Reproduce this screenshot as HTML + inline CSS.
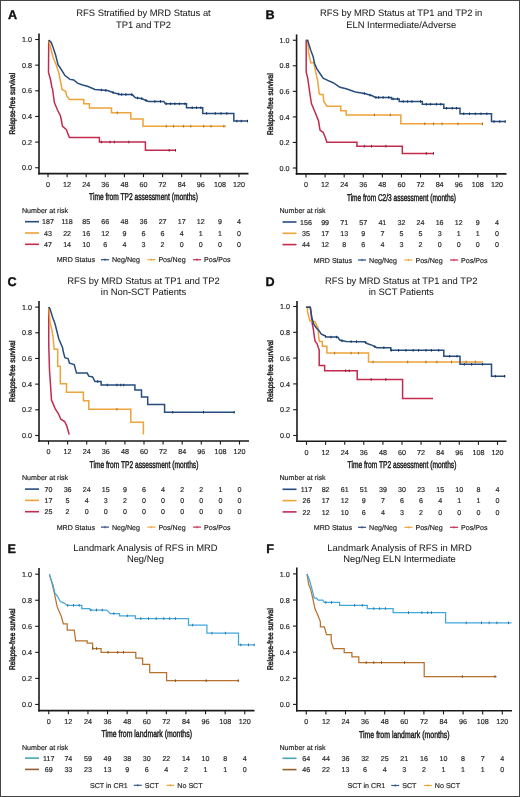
<!DOCTYPE html>
<html><head><meta charset="utf-8"><style>
html,body{margin:0;padding:0;background:#fff;}
body{width:520px;height:797px;overflow:hidden;position:relative;}
svg{position:absolute;left:0;top:0;font-family:"Liberation Sans",sans-serif;text-rendering:geometricPrecision;filter:blur(0.3px);}
.frame{position:absolute;left:0;top:0;width:518px;height:795px;border:1px solid #444;}
</style></head><body>
<svg width="520" height="797" viewBox="0 0 520 797">
<text x="8.00" y="18.80" font-size="12.6" text-anchor="start" fill="#111" font-weight="bold" stroke="#111" stroke-width="0.35">A</text>
<text x="143.50" y="16.10" font-size="9.4" text-anchor="middle" fill="#1a1a1a" font-weight="normal" stroke="#1a1a1a" stroke-width="0.04">RFS Stratified by MRD Status at</text>
<text x="143.50" y="27.60" font-size="9.4" text-anchor="middle" fill="#1a1a1a" font-weight="normal" stroke="#1a1a1a" stroke-width="0.04">TP1 and TP2</text>
<line x1="39.00" y1="33.50" x2="39.00" y2="174.40" stroke="#1a1a1a" stroke-width="1.6"/>
<line x1="38.20" y1="173.60" x2="248.50" y2="173.60" stroke="#1a1a1a" stroke-width="1.6"/>
<line x1="35.20" y1="39.50" x2="39.00" y2="39.50" stroke="#1a1a1a" stroke-width="1.1"/>
<text x="32.00" y="42.10" font-size="7.2" text-anchor="end" fill="#222" font-weight="normal" stroke="#222" stroke-width="0.16">1.0</text>
<line x1="35.20" y1="65.15" x2="39.00" y2="65.15" stroke="#1a1a1a" stroke-width="1.1"/>
<text x="32.00" y="67.75" font-size="7.2" text-anchor="end" fill="#222" font-weight="normal" stroke="#222" stroke-width="0.16">0.8</text>
<line x1="35.20" y1="90.80" x2="39.00" y2="90.80" stroke="#1a1a1a" stroke-width="1.1"/>
<text x="32.00" y="93.40" font-size="7.2" text-anchor="end" fill="#222" font-weight="normal" stroke="#222" stroke-width="0.16">0.6</text>
<line x1="35.20" y1="116.45" x2="39.00" y2="116.45" stroke="#1a1a1a" stroke-width="1.1"/>
<text x="32.00" y="119.05" font-size="7.2" text-anchor="end" fill="#222" font-weight="normal" stroke="#222" stroke-width="0.16">0.4</text>
<line x1="35.20" y1="142.10" x2="39.00" y2="142.10" stroke="#1a1a1a" stroke-width="1.1"/>
<text x="32.00" y="144.70" font-size="7.2" text-anchor="end" fill="#222" font-weight="normal" stroke="#222" stroke-width="0.16">0.2</text>
<line x1="35.20" y1="167.75" x2="39.00" y2="167.75" stroke="#1a1a1a" stroke-width="1.1"/>
<text x="32.00" y="170.35" font-size="7.2" text-anchor="end" fill="#222" font-weight="normal" stroke="#222" stroke-width="0.16">0.0</text>
<line x1="48.00" y1="173.60" x2="48.00" y2="177.20" stroke="#1a1a1a" stroke-width="1.1"/>
<text x="48.00" y="187.00" font-size="7.2" text-anchor="middle" fill="#222" font-weight="normal" stroke="#222" stroke-width="0.16">0</text>
<line x1="67.10" y1="173.60" x2="67.10" y2="177.20" stroke="#1a1a1a" stroke-width="1.1"/>
<text x="67.10" y="187.00" font-size="7.2" text-anchor="middle" fill="#222" font-weight="normal" stroke="#222" stroke-width="0.16">12</text>
<line x1="86.20" y1="173.60" x2="86.20" y2="177.20" stroke="#1a1a1a" stroke-width="1.1"/>
<text x="86.20" y="187.00" font-size="7.2" text-anchor="middle" fill="#222" font-weight="normal" stroke="#222" stroke-width="0.16">24</text>
<line x1="105.30" y1="173.60" x2="105.30" y2="177.20" stroke="#1a1a1a" stroke-width="1.1"/>
<text x="105.30" y="187.00" font-size="7.2" text-anchor="middle" fill="#222" font-weight="normal" stroke="#222" stroke-width="0.16">36</text>
<line x1="124.40" y1="173.60" x2="124.40" y2="177.20" stroke="#1a1a1a" stroke-width="1.1"/>
<text x="124.40" y="187.00" font-size="7.2" text-anchor="middle" fill="#222" font-weight="normal" stroke="#222" stroke-width="0.16">48</text>
<line x1="143.50" y1="173.60" x2="143.50" y2="177.20" stroke="#1a1a1a" stroke-width="1.1"/>
<text x="143.50" y="187.00" font-size="7.2" text-anchor="middle" fill="#222" font-weight="normal" stroke="#222" stroke-width="0.16">60</text>
<line x1="162.60" y1="173.60" x2="162.60" y2="177.20" stroke="#1a1a1a" stroke-width="1.1"/>
<text x="162.60" y="187.00" font-size="7.2" text-anchor="middle" fill="#222" font-weight="normal" stroke="#222" stroke-width="0.16">72</text>
<line x1="181.70" y1="173.60" x2="181.70" y2="177.20" stroke="#1a1a1a" stroke-width="1.1"/>
<text x="181.70" y="187.00" font-size="7.2" text-anchor="middle" fill="#222" font-weight="normal" stroke="#222" stroke-width="0.16">84</text>
<line x1="200.80" y1="173.60" x2="200.80" y2="177.20" stroke="#1a1a1a" stroke-width="1.1"/>
<text x="200.80" y="187.00" font-size="7.2" text-anchor="middle" fill="#222" font-weight="normal" stroke="#222" stroke-width="0.16">96</text>
<line x1="219.90" y1="173.60" x2="219.90" y2="177.20" stroke="#1a1a1a" stroke-width="1.1"/>
<text x="219.90" y="187.00" font-size="7.2" text-anchor="middle" fill="#222" font-weight="normal" stroke="#222" stroke-width="0.16">108</text>
<line x1="239.00" y1="173.60" x2="239.00" y2="177.20" stroke="#1a1a1a" stroke-width="1.1"/>
<text x="239.00" y="187.00" font-size="7.2" text-anchor="middle" fill="#222" font-weight="normal" stroke="#222" stroke-width="0.16">120</text>
<text transform="translate(143.50,200.30) scale(0.672,1)" font-size="9.9" text-anchor="middle" fill="#1a1a1a" stroke="#1a1a1a" stroke-width="0.45" x="0" y="0">Time from TP2 assessment (months)</text>
<text transform="translate(15.10,103.62) rotate(-90) scale(0.8,1)" font-size="8.2" text-anchor="middle" fill="#1a1a1a" stroke="#1a1a1a" stroke-width="0.42" x="0" y="0">Relapse-free survival</text>
<polyline points="48.75,40.00 48.50,72.50 50.60,80.00 51.90,87.50 52.50,88.75 54.40,102.50 57.50,110.00 60.60,116.25 62.50,126.25 66.25,129.40 69.40,137.50 99.40,137.50 99.40,142.00 145.40,142.00 145.40,150.30 175.40,150.30" fill="none" stroke="#c22a4e" stroke-width="1.5" stroke-linejoin="miter"/>
<line x1="101.40" y1="140.70" x2="101.40" y2="143.30" stroke="#871d36" stroke-width="1.0"/>
<line x1="110.00" y1="140.70" x2="110.00" y2="143.30" stroke="#871d36" stroke-width="1.0"/>
<line x1="114.40" y1="140.70" x2="114.40" y2="143.30" stroke="#871d36" stroke-width="1.0"/>
<line x1="128.80" y1="140.70" x2="128.80" y2="143.30" stroke="#871d36" stroke-width="1.0"/>
<line x1="169.20" y1="149.00" x2="169.20" y2="151.60" stroke="#871d36" stroke-width="1.0"/>
<line x1="175.50" y1="149.00" x2="175.50" y2="151.60" stroke="#871d36" stroke-width="1.0"/>
<polyline points="48.75,40.00 50.60,47.50 53.10,57.50 56.25,65.00 58.75,72.50 61.25,85.00 61.90,89.40 65.60,91.25 66.90,96.25 69.40,99.40 83.75,99.40 83.75,103.75 89.40,103.75 89.40,108.00 111.50,108.00 111.50,112.80 130.80,112.80 130.80,118.90 143.00,118.90 143.00,126.20 225.80,126.20" fill="none" stroke="#eda43a" stroke-width="1.5" stroke-linejoin="miter"/>
<line x1="117.30" y1="111.50" x2="117.30" y2="114.10" stroke="#a57228" stroke-width="1.0"/>
<line x1="166.30" y1="124.90" x2="166.30" y2="127.50" stroke="#a57228" stroke-width="1.0"/>
<line x1="173.50" y1="124.90" x2="173.50" y2="127.50" stroke="#a57228" stroke-width="1.0"/>
<line x1="183.60" y1="124.90" x2="183.60" y2="127.50" stroke="#a57228" stroke-width="1.0"/>
<line x1="190.80" y1="124.90" x2="190.80" y2="127.50" stroke="#a57228" stroke-width="1.0"/>
<line x1="203.70" y1="124.90" x2="203.70" y2="127.50" stroke="#a57228" stroke-width="1.0"/>
<line x1="211.00" y1="124.90" x2="211.00" y2="127.50" stroke="#a57228" stroke-width="1.0"/>
<line x1="223.90" y1="124.90" x2="223.90" y2="127.50" stroke="#a57228" stroke-width="1.0"/>
<polyline points="48.75,40.00 51.25,42.50 53.10,47.50 55.60,55.00 58.10,65.00 60.00,67.50 65.00,75.60 70.00,79.40 73.75,80.00 77.50,83.10 82.50,85.00 87.50,86.25 95.00,89.40 101.25,90.00 107.50,90.60 113.75,92.75 120.00,94.40 132.30,94.60 135.40,97.70 141.50,98.50 148.50,101.50 163.80,101.50 165.40,103.80 186.50,103.80 186.50,107.70 202.70,107.70 202.70,113.40 233.80,113.40 233.80,121.10 248.00,121.10" fill="none" stroke="#264d80" stroke-width="1.5" stroke-linejoin="miter"/>
<line x1="101.40" y1="88.71" x2="101.40" y2="91.31" stroke="#1a3559" stroke-width="1.0"/>
<line x1="105.80" y1="89.14" x2="105.80" y2="91.74" stroke="#1a3559" stroke-width="1.0"/>
<line x1="113.00" y1="91.19" x2="113.00" y2="93.79" stroke="#1a3559" stroke-width="1.0"/>
<line x1="118.70" y1="92.76" x2="118.70" y2="95.36" stroke="#1a3559" stroke-width="1.0"/>
<line x1="121.60" y1="93.13" x2="121.60" y2="95.73" stroke="#1a3559" stroke-width="1.0"/>
<line x1="125.90" y1="93.20" x2="125.90" y2="95.80" stroke="#1a3559" stroke-width="1.0"/>
<line x1="131.70" y1="93.29" x2="131.70" y2="95.89" stroke="#1a3559" stroke-width="1.0"/>
<line x1="137.50" y1="96.68" x2="137.50" y2="99.28" stroke="#1a3559" stroke-width="1.0"/>
<line x1="141.80" y1="97.33" x2="141.80" y2="99.93" stroke="#1a3559" stroke-width="1.0"/>
<line x1="146.10" y1="99.17" x2="146.10" y2="101.77" stroke="#1a3559" stroke-width="1.0"/>
<line x1="154.80" y1="100.20" x2="154.80" y2="102.80" stroke="#1a3559" stroke-width="1.0"/>
<line x1="160.50" y1="100.20" x2="160.50" y2="102.80" stroke="#1a3559" stroke-width="1.0"/>
<line x1="166.30" y1="102.50" x2="166.30" y2="105.10" stroke="#1a3559" stroke-width="1.0"/>
<line x1="170.60" y1="102.50" x2="170.60" y2="105.10" stroke="#1a3559" stroke-width="1.0"/>
<line x1="174.90" y1="102.50" x2="174.90" y2="105.10" stroke="#1a3559" stroke-width="1.0"/>
<line x1="179.30" y1="102.50" x2="179.30" y2="105.10" stroke="#1a3559" stroke-width="1.0"/>
<line x1="185.00" y1="102.50" x2="185.00" y2="105.10" stroke="#1a3559" stroke-width="1.0"/>
<line x1="192.20" y1="106.40" x2="192.20" y2="109.00" stroke="#1a3559" stroke-width="1.0"/>
<line x1="196.50" y1="106.40" x2="196.50" y2="109.00" stroke="#1a3559" stroke-width="1.0"/>
<line x1="200.90" y1="106.40" x2="200.90" y2="109.00" stroke="#1a3559" stroke-width="1.0"/>
<line x1="206.60" y1="112.10" x2="206.60" y2="114.70" stroke="#1a3559" stroke-width="1.0"/>
<line x1="215.30" y1="112.10" x2="215.30" y2="114.70" stroke="#1a3559" stroke-width="1.0"/>
<line x1="221.00" y1="112.10" x2="221.00" y2="114.70" stroke="#1a3559" stroke-width="1.0"/>
<line x1="226.80" y1="112.10" x2="226.80" y2="114.70" stroke="#1a3559" stroke-width="1.0"/>
<line x1="236.90" y1="119.80" x2="236.90" y2="122.40" stroke="#1a3559" stroke-width="1.0"/>
<line x1="241.20" y1="119.80" x2="241.20" y2="122.40" stroke="#1a3559" stroke-width="1.0"/>
<line x1="247.50" y1="119.80" x2="247.50" y2="122.40" stroke="#1a3559" stroke-width="1.0"/>
<text x="22.00" y="212.80" font-size="7.1" text-anchor="start" fill="#222" font-weight="normal" stroke="#222" stroke-width="0.16">Number at risk</text>
<line x1="25.00" y1="221.70" x2="39.00" y2="221.70" stroke="#264d80" stroke-width="1.6"/>
<text x="48.00" y="224.30" font-size="7.1" text-anchor="middle" fill="#222" font-weight="normal" stroke="#222" stroke-width="0.16">187</text>
<text x="67.10" y="224.30" font-size="7.1" text-anchor="middle" fill="#222" font-weight="normal" stroke="#222" stroke-width="0.16">118</text>
<text x="86.20" y="224.30" font-size="7.1" text-anchor="middle" fill="#222" font-weight="normal" stroke="#222" stroke-width="0.16">85</text>
<text x="105.30" y="224.30" font-size="7.1" text-anchor="middle" fill="#222" font-weight="normal" stroke="#222" stroke-width="0.16">66</text>
<text x="124.40" y="224.30" font-size="7.1" text-anchor="middle" fill="#222" font-weight="normal" stroke="#222" stroke-width="0.16">48</text>
<text x="143.50" y="224.30" font-size="7.1" text-anchor="middle" fill="#222" font-weight="normal" stroke="#222" stroke-width="0.16">36</text>
<text x="162.60" y="224.30" font-size="7.1" text-anchor="middle" fill="#222" font-weight="normal" stroke="#222" stroke-width="0.16">27</text>
<text x="181.70" y="224.30" font-size="7.1" text-anchor="middle" fill="#222" font-weight="normal" stroke="#222" stroke-width="0.16">17</text>
<text x="200.80" y="224.30" font-size="7.1" text-anchor="middle" fill="#222" font-weight="normal" stroke="#222" stroke-width="0.16">12</text>
<text x="219.90" y="224.30" font-size="7.1" text-anchor="middle" fill="#222" font-weight="normal" stroke="#222" stroke-width="0.16">9</text>
<text x="239.00" y="224.30" font-size="7.1" text-anchor="middle" fill="#222" font-weight="normal" stroke="#222" stroke-width="0.16">4</text>
<line x1="25.00" y1="233.00" x2="39.00" y2="233.00" stroke="#eda43a" stroke-width="1.6"/>
<text x="48.00" y="235.60" font-size="7.1" text-anchor="middle" fill="#222" font-weight="normal" stroke="#222" stroke-width="0.16">43</text>
<text x="67.10" y="235.60" font-size="7.1" text-anchor="middle" fill="#222" font-weight="normal" stroke="#222" stroke-width="0.16">22</text>
<text x="86.20" y="235.60" font-size="7.1" text-anchor="middle" fill="#222" font-weight="normal" stroke="#222" stroke-width="0.16">16</text>
<text x="105.30" y="235.60" font-size="7.1" text-anchor="middle" fill="#222" font-weight="normal" stroke="#222" stroke-width="0.16">12</text>
<text x="124.40" y="235.60" font-size="7.1" text-anchor="middle" fill="#222" font-weight="normal" stroke="#222" stroke-width="0.16">9</text>
<text x="143.50" y="235.60" font-size="7.1" text-anchor="middle" fill="#222" font-weight="normal" stroke="#222" stroke-width="0.16">6</text>
<text x="162.60" y="235.60" font-size="7.1" text-anchor="middle" fill="#222" font-weight="normal" stroke="#222" stroke-width="0.16">6</text>
<text x="181.70" y="235.60" font-size="7.1" text-anchor="middle" fill="#222" font-weight="normal" stroke="#222" stroke-width="0.16">4</text>
<text x="200.80" y="235.60" font-size="7.1" text-anchor="middle" fill="#222" font-weight="normal" stroke="#222" stroke-width="0.16">1</text>
<text x="219.90" y="235.60" font-size="7.1" text-anchor="middle" fill="#222" font-weight="normal" stroke="#222" stroke-width="0.16">1</text>
<text x="239.00" y="235.60" font-size="7.1" text-anchor="middle" fill="#222" font-weight="normal" stroke="#222" stroke-width="0.16">0</text>
<line x1="25.00" y1="244.30" x2="39.00" y2="244.30" stroke="#c22a4e" stroke-width="1.6"/>
<text x="48.00" y="246.90" font-size="7.1" text-anchor="middle" fill="#222" font-weight="normal" stroke="#222" stroke-width="0.16">47</text>
<text x="67.10" y="246.90" font-size="7.1" text-anchor="middle" fill="#222" font-weight="normal" stroke="#222" stroke-width="0.16">14</text>
<text x="86.20" y="246.90" font-size="7.1" text-anchor="middle" fill="#222" font-weight="normal" stroke="#222" stroke-width="0.16">10</text>
<text x="105.30" y="246.90" font-size="7.1" text-anchor="middle" fill="#222" font-weight="normal" stroke="#222" stroke-width="0.16">6</text>
<text x="124.40" y="246.90" font-size="7.1" text-anchor="middle" fill="#222" font-weight="normal" stroke="#222" stroke-width="0.16">4</text>
<text x="143.50" y="246.90" font-size="7.1" text-anchor="middle" fill="#222" font-weight="normal" stroke="#222" stroke-width="0.16">3</text>
<text x="162.60" y="246.90" font-size="7.1" text-anchor="middle" fill="#222" font-weight="normal" stroke="#222" stroke-width="0.16">2</text>
<text x="181.70" y="246.90" font-size="7.1" text-anchor="middle" fill="#222" font-weight="normal" stroke="#222" stroke-width="0.16">0</text>
<text x="200.80" y="246.90" font-size="7.1" text-anchor="middle" fill="#222" font-weight="normal" stroke="#222" stroke-width="0.16">0</text>
<text x="219.90" y="246.90" font-size="7.1" text-anchor="middle" fill="#222" font-weight="normal" stroke="#222" stroke-width="0.16">0</text>
<text x="239.00" y="246.90" font-size="7.1" text-anchor="middle" fill="#222" font-weight="normal" stroke="#222" stroke-width="0.16">0</text>
<text x="56.70" y="262.30" font-size="7.1" text-anchor="start" fill="#222" font-weight="normal" stroke="#222" stroke-width="0.16">MRD Status</text>
<line x1="100.97" y1="259.70" x2="108.97" y2="259.70" stroke="#264d80" stroke-width="1.2"/>
<line x1="104.97" y1="258.50" x2="104.97" y2="260.90" stroke="#264d80" stroke-width="0.8"/>
<text x="111.97" y="262.30" font-size="7.1" text-anchor="start" fill="#222" font-weight="normal" stroke="#222" stroke-width="0.16">Neg/Neg</text>
<line x1="147.39" y1="259.70" x2="155.39" y2="259.70" stroke="#eda43a" stroke-width="1.2"/>
<line x1="151.39" y1="258.50" x2="151.39" y2="260.90" stroke="#eda43a" stroke-width="0.8"/>
<text x="158.39" y="262.30" font-size="7.1" text-anchor="start" fill="#222" font-weight="normal" stroke="#222" stroke-width="0.16">Pos/Neg</text>
<line x1="193.02" y1="259.70" x2="201.02" y2="259.70" stroke="#c22a4e" stroke-width="1.2"/>
<line x1="197.02" y1="258.50" x2="197.02" y2="260.90" stroke="#c22a4e" stroke-width="0.8"/>
<text x="204.02" y="262.30" font-size="7.1" text-anchor="start" fill="#222" font-weight="normal" stroke="#222" stroke-width="0.16">Pos/Pos</text>
<text x="265.50" y="18.80" font-size="12.6" text-anchor="start" fill="#111" font-weight="bold" stroke="#111" stroke-width="0.35">B</text>
<text x="401.20" y="16.10" font-size="9.4" text-anchor="middle" fill="#1a1a1a" font-weight="normal" stroke="#1a1a1a" stroke-width="0.04">RFS by MRD Status at TP1 and TP2 in</text>
<text x="401.20" y="27.60" font-size="9.4" text-anchor="middle" fill="#1a1a1a" font-weight="normal" stroke="#1a1a1a" stroke-width="0.04">ELN Intermediate/Adverse</text>
<line x1="296.60" y1="34.40" x2="296.60" y2="174.70" stroke="#1a1a1a" stroke-width="1.6"/>
<line x1="295.80" y1="173.90" x2="506.50" y2="173.90" stroke="#1a1a1a" stroke-width="1.6"/>
<line x1="292.80" y1="40.25" x2="296.60" y2="40.25" stroke="#1a1a1a" stroke-width="1.1"/>
<text x="289.60" y="42.85" font-size="7.2" text-anchor="end" fill="#222" font-weight="normal" stroke="#222" stroke-width="0.16">1.0</text>
<line x1="292.80" y1="65.80" x2="296.60" y2="65.80" stroke="#1a1a1a" stroke-width="1.1"/>
<text x="289.60" y="68.40" font-size="7.2" text-anchor="end" fill="#222" font-weight="normal" stroke="#222" stroke-width="0.16">0.8</text>
<line x1="292.80" y1="91.35" x2="296.60" y2="91.35" stroke="#1a1a1a" stroke-width="1.1"/>
<text x="289.60" y="93.95" font-size="7.2" text-anchor="end" fill="#222" font-weight="normal" stroke="#222" stroke-width="0.16">0.6</text>
<line x1="292.80" y1="116.90" x2="296.60" y2="116.90" stroke="#1a1a1a" stroke-width="1.1"/>
<text x="289.60" y="119.50" font-size="7.2" text-anchor="end" fill="#222" font-weight="normal" stroke="#222" stroke-width="0.16">0.4</text>
<line x1="292.80" y1="142.45" x2="296.60" y2="142.45" stroke="#1a1a1a" stroke-width="1.1"/>
<text x="289.60" y="145.05" font-size="7.2" text-anchor="end" fill="#222" font-weight="normal" stroke="#222" stroke-width="0.16">0.2</text>
<line x1="292.80" y1="168.00" x2="296.60" y2="168.00" stroke="#1a1a1a" stroke-width="1.1"/>
<text x="289.60" y="170.60" font-size="7.2" text-anchor="end" fill="#222" font-weight="normal" stroke="#222" stroke-width="0.16">0.0</text>
<line x1="306.00" y1="173.90" x2="306.00" y2="177.50" stroke="#1a1a1a" stroke-width="1.1"/>
<text x="306.00" y="187.30" font-size="7.2" text-anchor="middle" fill="#222" font-weight="normal" stroke="#222" stroke-width="0.16">0</text>
<line x1="325.09" y1="173.90" x2="325.09" y2="177.50" stroke="#1a1a1a" stroke-width="1.1"/>
<text x="325.09" y="187.30" font-size="7.2" text-anchor="middle" fill="#222" font-weight="normal" stroke="#222" stroke-width="0.16">12</text>
<line x1="344.18" y1="173.90" x2="344.18" y2="177.50" stroke="#1a1a1a" stroke-width="1.1"/>
<text x="344.18" y="187.30" font-size="7.2" text-anchor="middle" fill="#222" font-weight="normal" stroke="#222" stroke-width="0.16">24</text>
<line x1="363.27" y1="173.90" x2="363.27" y2="177.50" stroke="#1a1a1a" stroke-width="1.1"/>
<text x="363.27" y="187.30" font-size="7.2" text-anchor="middle" fill="#222" font-weight="normal" stroke="#222" stroke-width="0.16">36</text>
<line x1="382.36" y1="173.90" x2="382.36" y2="177.50" stroke="#1a1a1a" stroke-width="1.1"/>
<text x="382.36" y="187.30" font-size="7.2" text-anchor="middle" fill="#222" font-weight="normal" stroke="#222" stroke-width="0.16">48</text>
<line x1="401.45" y1="173.90" x2="401.45" y2="177.50" stroke="#1a1a1a" stroke-width="1.1"/>
<text x="401.45" y="187.30" font-size="7.2" text-anchor="middle" fill="#222" font-weight="normal" stroke="#222" stroke-width="0.16">60</text>
<line x1="420.54" y1="173.90" x2="420.54" y2="177.50" stroke="#1a1a1a" stroke-width="1.1"/>
<text x="420.54" y="187.30" font-size="7.2" text-anchor="middle" fill="#222" font-weight="normal" stroke="#222" stroke-width="0.16">72</text>
<line x1="439.63" y1="173.90" x2="439.63" y2="177.50" stroke="#1a1a1a" stroke-width="1.1"/>
<text x="439.63" y="187.30" font-size="7.2" text-anchor="middle" fill="#222" font-weight="normal" stroke="#222" stroke-width="0.16">84</text>
<line x1="458.72" y1="173.90" x2="458.72" y2="177.50" stroke="#1a1a1a" stroke-width="1.1"/>
<text x="458.72" y="187.30" font-size="7.2" text-anchor="middle" fill="#222" font-weight="normal" stroke="#222" stroke-width="0.16">96</text>
<line x1="477.81" y1="173.90" x2="477.81" y2="177.50" stroke="#1a1a1a" stroke-width="1.1"/>
<text x="477.81" y="187.30" font-size="7.2" text-anchor="middle" fill="#222" font-weight="normal" stroke="#222" stroke-width="0.16">108</text>
<line x1="496.90" y1="173.90" x2="496.90" y2="177.50" stroke="#1a1a1a" stroke-width="1.1"/>
<text x="496.90" y="187.30" font-size="7.2" text-anchor="middle" fill="#222" font-weight="normal" stroke="#222" stroke-width="0.16">120</text>
<text transform="translate(401.45,200.60) scale(0.662,1)" font-size="9.9" text-anchor="middle" fill="#1a1a1a" stroke="#1a1a1a" stroke-width="0.45" x="0" y="0">Time from C2/3 assessment (months)</text>
<text transform="translate(272.70,104.12) rotate(-90) scale(0.8,1)" font-size="8.2" text-anchor="middle" fill="#1a1a1a" stroke="#1a1a1a" stroke-width="0.42" x="0" y="0">Relapse-free survival</text>
<polyline points="307.70,40.40 306.20,40.40 306.20,71.90 307.70,78.10 309.20,88.80 310.30,96.50 311.50,103.80 315.40,113.00 318.50,120.80 320.00,130.00 323.10,132.30 325.40,137.70 326.90,142.30 356.90,142.30 356.90,146.20 402.30,146.20 402.30,153.40 433.10,153.40" fill="none" stroke="#c22a4e" stroke-width="1.5" stroke-linejoin="miter"/>
<line x1="364.30" y1="144.90" x2="364.30" y2="147.50" stroke="#871d36" stroke-width="1.0"/>
<line x1="371.50" y1="144.90" x2="371.50" y2="147.50" stroke="#871d36" stroke-width="1.0"/>
<line x1="385.90" y1="144.90" x2="385.90" y2="147.50" stroke="#871d36" stroke-width="1.0"/>
<line x1="426.30" y1="152.10" x2="426.30" y2="154.70" stroke="#871d36" stroke-width="1.0"/>
<line x1="433.50" y1="152.10" x2="433.50" y2="154.70" stroke="#871d36" stroke-width="1.0"/>
<polyline points="306.20,40.40 307.70,40.40 308.50,51.90 310.00,58.80 310.80,62.70 313.80,62.70 315.40,70.40 317.70,81.20 319.20,93.50 320.00,94.60 323.10,94.60 323.80,101.50 326.90,106.20 340.80,106.20 340.80,110.80 346.20,110.80 346.20,114.90 400.80,114.90 400.80,123.80 483.10,123.80" fill="none" stroke="#eda43a" stroke-width="1.5" stroke-linejoin="miter"/>
<line x1="374.40" y1="113.60" x2="374.40" y2="116.20" stroke="#a57228" stroke-width="1.0"/>
<line x1="390.30" y1="113.60" x2="390.30" y2="116.20" stroke="#a57228" stroke-width="1.0"/>
<line x1="424.80" y1="122.50" x2="424.80" y2="125.10" stroke="#a57228" stroke-width="1.0"/>
<line x1="433.50" y1="122.50" x2="433.50" y2="125.10" stroke="#a57228" stroke-width="1.0"/>
<line x1="442.10" y1="122.50" x2="442.10" y2="125.10" stroke="#a57228" stroke-width="1.0"/>
<line x1="458.00" y1="122.50" x2="458.00" y2="125.10" stroke="#a57228" stroke-width="1.0"/>
<line x1="482.50" y1="122.50" x2="482.50" y2="125.10" stroke="#a57228" stroke-width="1.0"/>
<polyline points="306.20,40.40 307.70,40.40 310.80,50.40 313.10,56.50 314.60,63.50 316.90,68.80 320.00,73.50 323.10,78.10 327.70,80.40 333.10,82.70 340.00,87.30 346.20,88.80 355.40,91.90 364.60,93.50 372.30,95.80 375.40,97.40 391.50,97.40 391.50,98.90 399.20,98.90 399.20,101.50 422.30,101.50 422.30,104.20 443.80,104.20 443.80,108.20 460.00,108.20 460.00,113.80 491.50,113.80 491.50,121.50 505.40,121.50" fill="none" stroke="#264d80" stroke-width="1.5" stroke-linejoin="miter"/>
<line x1="364.30" y1="92.15" x2="364.30" y2="94.75" stroke="#1a3559" stroke-width="1.0"/>
<line x1="370.10" y1="93.84" x2="370.10" y2="96.44" stroke="#1a3559" stroke-width="1.0"/>
<line x1="375.90" y1="96.10" x2="375.90" y2="98.70" stroke="#1a3559" stroke-width="1.0"/>
<line x1="378.70" y1="96.10" x2="378.70" y2="98.70" stroke="#1a3559" stroke-width="1.0"/>
<line x1="383.10" y1="96.10" x2="383.10" y2="98.70" stroke="#1a3559" stroke-width="1.0"/>
<line x1="388.80" y1="96.10" x2="388.80" y2="98.70" stroke="#1a3559" stroke-width="1.0"/>
<line x1="393.10" y1="97.60" x2="393.10" y2="100.20" stroke="#1a3559" stroke-width="1.0"/>
<line x1="397.50" y1="97.60" x2="397.50" y2="100.20" stroke="#1a3559" stroke-width="1.0"/>
<line x1="403.20" y1="100.20" x2="403.20" y2="102.80" stroke="#1a3559" stroke-width="1.0"/>
<line x1="407.60" y1="100.20" x2="407.60" y2="102.80" stroke="#1a3559" stroke-width="1.0"/>
<line x1="411.90" y1="100.20" x2="411.90" y2="102.80" stroke="#1a3559" stroke-width="1.0"/>
<line x1="420.50" y1="100.20" x2="420.50" y2="102.80" stroke="#1a3559" stroke-width="1.0"/>
<line x1="426.30" y1="102.90" x2="426.30" y2="105.50" stroke="#1a3559" stroke-width="1.0"/>
<line x1="430.60" y1="102.90" x2="430.60" y2="105.50" stroke="#1a3559" stroke-width="1.0"/>
<line x1="436.40" y1="102.90" x2="436.40" y2="105.50" stroke="#1a3559" stroke-width="1.0"/>
<line x1="440.70" y1="102.90" x2="440.70" y2="105.50" stroke="#1a3559" stroke-width="1.0"/>
<line x1="446.50" y1="106.90" x2="446.50" y2="109.50" stroke="#1a3559" stroke-width="1.0"/>
<line x1="452.20" y1="106.90" x2="452.20" y2="109.50" stroke="#1a3559" stroke-width="1.0"/>
<line x1="456.50" y1="106.90" x2="456.50" y2="109.50" stroke="#1a3559" stroke-width="1.0"/>
<line x1="463.70" y1="112.50" x2="463.70" y2="115.10" stroke="#1a3559" stroke-width="1.0"/>
<line x1="469.50" y1="112.50" x2="469.50" y2="115.10" stroke="#1a3559" stroke-width="1.0"/>
<line x1="475.30" y1="112.50" x2="475.30" y2="115.10" stroke="#1a3559" stroke-width="1.0"/>
<line x1="481.00" y1="112.50" x2="481.00" y2="115.10" stroke="#1a3559" stroke-width="1.0"/>
<line x1="486.80" y1="112.50" x2="486.80" y2="115.10" stroke="#1a3559" stroke-width="1.0"/>
<line x1="494.00" y1="120.20" x2="494.00" y2="122.80" stroke="#1a3559" stroke-width="1.0"/>
<line x1="499.80" y1="120.20" x2="499.80" y2="122.80" stroke="#1a3559" stroke-width="1.0"/>
<line x1="505.20" y1="120.20" x2="505.20" y2="122.80" stroke="#1a3559" stroke-width="1.0"/>
<text x="279.50" y="213.10" font-size="7.1" text-anchor="start" fill="#222" font-weight="normal" stroke="#222" stroke-width="0.16">Number at risk</text>
<line x1="282.50" y1="222.00" x2="296.50" y2="222.00" stroke="#264d80" stroke-width="1.6"/>
<text x="306.00" y="224.60" font-size="7.1" text-anchor="middle" fill="#222" font-weight="normal" stroke="#222" stroke-width="0.16">156</text>
<text x="325.09" y="224.60" font-size="7.1" text-anchor="middle" fill="#222" font-weight="normal" stroke="#222" stroke-width="0.16">99</text>
<text x="344.18" y="224.60" font-size="7.1" text-anchor="middle" fill="#222" font-weight="normal" stroke="#222" stroke-width="0.16">71</text>
<text x="363.27" y="224.60" font-size="7.1" text-anchor="middle" fill="#222" font-weight="normal" stroke="#222" stroke-width="0.16">57</text>
<text x="382.36" y="224.60" font-size="7.1" text-anchor="middle" fill="#222" font-weight="normal" stroke="#222" stroke-width="0.16">41</text>
<text x="401.45" y="224.60" font-size="7.1" text-anchor="middle" fill="#222" font-weight="normal" stroke="#222" stroke-width="0.16">32</text>
<text x="420.54" y="224.60" font-size="7.1" text-anchor="middle" fill="#222" font-weight="normal" stroke="#222" stroke-width="0.16">24</text>
<text x="439.63" y="224.60" font-size="7.1" text-anchor="middle" fill="#222" font-weight="normal" stroke="#222" stroke-width="0.16">16</text>
<text x="458.72" y="224.60" font-size="7.1" text-anchor="middle" fill="#222" font-weight="normal" stroke="#222" stroke-width="0.16">12</text>
<text x="477.81" y="224.60" font-size="7.1" text-anchor="middle" fill="#222" font-weight="normal" stroke="#222" stroke-width="0.16">9</text>
<text x="496.90" y="224.60" font-size="7.1" text-anchor="middle" fill="#222" font-weight="normal" stroke="#222" stroke-width="0.16">4</text>
<line x1="282.50" y1="233.30" x2="296.50" y2="233.30" stroke="#eda43a" stroke-width="1.6"/>
<text x="306.00" y="235.90" font-size="7.1" text-anchor="middle" fill="#222" font-weight="normal" stroke="#222" stroke-width="0.16">35</text>
<text x="325.09" y="235.90" font-size="7.1" text-anchor="middle" fill="#222" font-weight="normal" stroke="#222" stroke-width="0.16">17</text>
<text x="344.18" y="235.90" font-size="7.1" text-anchor="middle" fill="#222" font-weight="normal" stroke="#222" stroke-width="0.16">13</text>
<text x="363.27" y="235.90" font-size="7.1" text-anchor="middle" fill="#222" font-weight="normal" stroke="#222" stroke-width="0.16">9</text>
<text x="382.36" y="235.90" font-size="7.1" text-anchor="middle" fill="#222" font-weight="normal" stroke="#222" stroke-width="0.16">7</text>
<text x="401.45" y="235.90" font-size="7.1" text-anchor="middle" fill="#222" font-weight="normal" stroke="#222" stroke-width="0.16">5</text>
<text x="420.54" y="235.90" font-size="7.1" text-anchor="middle" fill="#222" font-weight="normal" stroke="#222" stroke-width="0.16">5</text>
<text x="439.63" y="235.90" font-size="7.1" text-anchor="middle" fill="#222" font-weight="normal" stroke="#222" stroke-width="0.16">3</text>
<text x="458.72" y="235.90" font-size="7.1" text-anchor="middle" fill="#222" font-weight="normal" stroke="#222" stroke-width="0.16">1</text>
<text x="477.81" y="235.90" font-size="7.1" text-anchor="middle" fill="#222" font-weight="normal" stroke="#222" stroke-width="0.16">1</text>
<text x="496.90" y="235.90" font-size="7.1" text-anchor="middle" fill="#222" font-weight="normal" stroke="#222" stroke-width="0.16">0</text>
<line x1="282.50" y1="244.60" x2="296.50" y2="244.60" stroke="#c22a4e" stroke-width="1.6"/>
<text x="306.00" y="247.20" font-size="7.1" text-anchor="middle" fill="#222" font-weight="normal" stroke="#222" stroke-width="0.16">44</text>
<text x="325.09" y="247.20" font-size="7.1" text-anchor="middle" fill="#222" font-weight="normal" stroke="#222" stroke-width="0.16">12</text>
<text x="344.18" y="247.20" font-size="7.1" text-anchor="middle" fill="#222" font-weight="normal" stroke="#222" stroke-width="0.16">8</text>
<text x="363.27" y="247.20" font-size="7.1" text-anchor="middle" fill="#222" font-weight="normal" stroke="#222" stroke-width="0.16">6</text>
<text x="382.36" y="247.20" font-size="7.1" text-anchor="middle" fill="#222" font-weight="normal" stroke="#222" stroke-width="0.16">4</text>
<text x="401.45" y="247.20" font-size="7.1" text-anchor="middle" fill="#222" font-weight="normal" stroke="#222" stroke-width="0.16">3</text>
<text x="420.54" y="247.20" font-size="7.1" text-anchor="middle" fill="#222" font-weight="normal" stroke="#222" stroke-width="0.16">2</text>
<text x="439.63" y="247.20" font-size="7.1" text-anchor="middle" fill="#222" font-weight="normal" stroke="#222" stroke-width="0.16">0</text>
<text x="458.72" y="247.20" font-size="7.1" text-anchor="middle" fill="#222" font-weight="normal" stroke="#222" stroke-width="0.16">0</text>
<text x="477.81" y="247.20" font-size="7.1" text-anchor="middle" fill="#222" font-weight="normal" stroke="#222" stroke-width="0.16">0</text>
<text x="496.90" y="247.20" font-size="7.1" text-anchor="middle" fill="#222" font-weight="normal" stroke="#222" stroke-width="0.16">0</text>
<text x="313.75" y="262.60" font-size="7.1" text-anchor="start" fill="#222" font-weight="normal" stroke="#222" stroke-width="0.16">MRD Status</text>
<line x1="358.02" y1="260.00" x2="366.02" y2="260.00" stroke="#264d80" stroke-width="1.2"/>
<line x1="362.02" y1="258.80" x2="362.02" y2="261.20" stroke="#264d80" stroke-width="0.8"/>
<text x="369.02" y="262.60" font-size="7.1" text-anchor="start" fill="#222" font-weight="normal" stroke="#222" stroke-width="0.16">Neg/Neg</text>
<line x1="404.44" y1="260.00" x2="412.44" y2="260.00" stroke="#eda43a" stroke-width="1.2"/>
<line x1="408.44" y1="258.80" x2="408.44" y2="261.20" stroke="#eda43a" stroke-width="0.8"/>
<text x="415.44" y="262.60" font-size="7.1" text-anchor="start" fill="#222" font-weight="normal" stroke="#222" stroke-width="0.16">Pos/Neg</text>
<line x1="450.07" y1="260.00" x2="458.07" y2="260.00" stroke="#c22a4e" stroke-width="1.2"/>
<line x1="454.07" y1="258.80" x2="454.07" y2="261.20" stroke="#c22a4e" stroke-width="0.8"/>
<text x="461.07" y="262.60" font-size="7.1" text-anchor="start" fill="#222" font-weight="normal" stroke="#222" stroke-width="0.16">Pos/Pos</text>
<text x="7.50" y="286.30" font-size="12.6" text-anchor="start" fill="#111" font-weight="bold" stroke="#111" stroke-width="0.35">C</text>
<text x="143.50" y="283.60" font-size="9.4" text-anchor="middle" fill="#1a1a1a" font-weight="normal" stroke="#1a1a1a" stroke-width="0.04">RFS by MRD Status at TP1 and TP2</text>
<text x="143.50" y="295.10" font-size="9.4" text-anchor="middle" fill="#1a1a1a" font-weight="normal" stroke="#1a1a1a" stroke-width="0.04">in Non-SCT Patients</text>
<line x1="39.00" y1="301.00" x2="39.00" y2="441.80" stroke="#1a1a1a" stroke-width="1.6"/>
<line x1="38.20" y1="441.00" x2="249.00" y2="441.00" stroke="#1a1a1a" stroke-width="1.6"/>
<line x1="35.20" y1="307.10" x2="39.00" y2="307.10" stroke="#1a1a1a" stroke-width="1.1"/>
<text x="32.00" y="309.70" font-size="7.2" text-anchor="end" fill="#222" font-weight="normal" stroke="#222" stroke-width="0.16">1.0</text>
<line x1="35.20" y1="332.78" x2="39.00" y2="332.78" stroke="#1a1a1a" stroke-width="1.1"/>
<text x="32.00" y="335.38" font-size="7.2" text-anchor="end" fill="#222" font-weight="normal" stroke="#222" stroke-width="0.16">0.8</text>
<line x1="35.20" y1="358.46" x2="39.00" y2="358.46" stroke="#1a1a1a" stroke-width="1.1"/>
<text x="32.00" y="361.06" font-size="7.2" text-anchor="end" fill="#222" font-weight="normal" stroke="#222" stroke-width="0.16">0.6</text>
<line x1="35.20" y1="384.14" x2="39.00" y2="384.14" stroke="#1a1a1a" stroke-width="1.1"/>
<text x="32.00" y="386.74" font-size="7.2" text-anchor="end" fill="#222" font-weight="normal" stroke="#222" stroke-width="0.16">0.4</text>
<line x1="35.20" y1="409.82" x2="39.00" y2="409.82" stroke="#1a1a1a" stroke-width="1.1"/>
<text x="32.00" y="412.42" font-size="7.2" text-anchor="end" fill="#222" font-weight="normal" stroke="#222" stroke-width="0.16">0.2</text>
<line x1="35.20" y1="435.50" x2="39.00" y2="435.50" stroke="#1a1a1a" stroke-width="1.1"/>
<text x="32.00" y="438.10" font-size="7.2" text-anchor="end" fill="#222" font-weight="normal" stroke="#222" stroke-width="0.16">0.0</text>
<line x1="48.50" y1="441.00" x2="48.50" y2="444.60" stroke="#1a1a1a" stroke-width="1.1"/>
<text x="48.50" y="454.40" font-size="7.2" text-anchor="middle" fill="#222" font-weight="normal" stroke="#222" stroke-width="0.16">0</text>
<line x1="67.60" y1="441.00" x2="67.60" y2="444.60" stroke="#1a1a1a" stroke-width="1.1"/>
<text x="67.60" y="454.40" font-size="7.2" text-anchor="middle" fill="#222" font-weight="normal" stroke="#222" stroke-width="0.16">12</text>
<line x1="86.70" y1="441.00" x2="86.70" y2="444.60" stroke="#1a1a1a" stroke-width="1.1"/>
<text x="86.70" y="454.40" font-size="7.2" text-anchor="middle" fill="#222" font-weight="normal" stroke="#222" stroke-width="0.16">24</text>
<line x1="105.80" y1="441.00" x2="105.80" y2="444.60" stroke="#1a1a1a" stroke-width="1.1"/>
<text x="105.80" y="454.40" font-size="7.2" text-anchor="middle" fill="#222" font-weight="normal" stroke="#222" stroke-width="0.16">36</text>
<line x1="124.90" y1="441.00" x2="124.90" y2="444.60" stroke="#1a1a1a" stroke-width="1.1"/>
<text x="124.90" y="454.40" font-size="7.2" text-anchor="middle" fill="#222" font-weight="normal" stroke="#222" stroke-width="0.16">48</text>
<line x1="144.00" y1="441.00" x2="144.00" y2="444.60" stroke="#1a1a1a" stroke-width="1.1"/>
<text x="144.00" y="454.40" font-size="7.2" text-anchor="middle" fill="#222" font-weight="normal" stroke="#222" stroke-width="0.16">60</text>
<line x1="163.10" y1="441.00" x2="163.10" y2="444.60" stroke="#1a1a1a" stroke-width="1.1"/>
<text x="163.10" y="454.40" font-size="7.2" text-anchor="middle" fill="#222" font-weight="normal" stroke="#222" stroke-width="0.16">72</text>
<line x1="182.20" y1="441.00" x2="182.20" y2="444.60" stroke="#1a1a1a" stroke-width="1.1"/>
<text x="182.20" y="454.40" font-size="7.2" text-anchor="middle" fill="#222" font-weight="normal" stroke="#222" stroke-width="0.16">84</text>
<line x1="201.30" y1="441.00" x2="201.30" y2="444.60" stroke="#1a1a1a" stroke-width="1.1"/>
<text x="201.30" y="454.40" font-size="7.2" text-anchor="middle" fill="#222" font-weight="normal" stroke="#222" stroke-width="0.16">96</text>
<line x1="220.40" y1="441.00" x2="220.40" y2="444.60" stroke="#1a1a1a" stroke-width="1.1"/>
<text x="220.40" y="454.40" font-size="7.2" text-anchor="middle" fill="#222" font-weight="normal" stroke="#222" stroke-width="0.16">108</text>
<line x1="239.50" y1="441.00" x2="239.50" y2="444.60" stroke="#1a1a1a" stroke-width="1.1"/>
<text x="239.50" y="454.40" font-size="7.2" text-anchor="middle" fill="#222" font-weight="normal" stroke="#222" stroke-width="0.16">120</text>
<text transform="translate(144.00,467.70) scale(0.672,1)" font-size="9.9" text-anchor="middle" fill="#1a1a1a" stroke="#1a1a1a" stroke-width="0.45" x="0" y="0">Time from TP2 assessment (months)</text>
<text transform="translate(15.10,371.30) rotate(-90) scale(0.8,1)" font-size="8.2" text-anchor="middle" fill="#1a1a1a" stroke="#1a1a1a" stroke-width="0.42" x="0" y="0">Relapse-free survival</text>
<polyline points="48.75,307.00 48.75,345.00 49.50,370.00 50.50,385.00 51.50,400.00 53.80,405.40 55.40,409.20 58.50,413.80 60.80,419.20 64.60,421.50 66.90,426.20 69.20,434.60" fill="none" stroke="#c22a4e" stroke-width="1.5" stroke-linejoin="miter"/>
<polyline points="48.75,307.00 50.00,322.50 51.90,330.00 53.10,337.50 54.20,349.20 57.70,349.20 57.70,366.20 60.30,366.20 60.30,383.80 66.50,383.80 66.50,392.30 83.40,392.30 83.40,400.80 88.80,400.80 88.80,409.20 130.80,409.20 130.80,422.30 143.40,422.30 143.40,434.60" fill="none" stroke="#eda43a" stroke-width="1.5" stroke-linejoin="miter"/>
<line x1="116.90" y1="407.90" x2="116.90" y2="410.50" stroke="#a57228" stroke-width="1.0"/>
<polyline points="48.75,307.00 50.00,308.75 52.50,316.90 55.00,323.75 56.90,331.25 58.75,338.75 62.50,347.50 63.40,352.30 64.90,357.70 68.00,358.50 69.50,363.10 74.20,364.60 76.50,373.10 87.20,373.10 88.80,376.20 92.60,376.90 94.90,381.50 101.10,381.50 101.10,385.00 134.90,385.00 134.90,390.00 141.50,390.00 141.50,396.90 147.70,396.90 147.70,404.60 164.60,404.60 164.60,412.20 234.60,412.20" fill="none" stroke="#264d80" stroke-width="1.5" stroke-linejoin="miter"/>
<line x1="97.70" y1="380.20" x2="97.70" y2="382.80" stroke="#1a3559" stroke-width="1.0"/>
<line x1="107.30" y1="383.70" x2="107.30" y2="386.30" stroke="#1a3559" stroke-width="1.0"/>
<line x1="116.90" y1="383.70" x2="116.90" y2="386.30" stroke="#1a3559" stroke-width="1.0"/>
<line x1="120.80" y1="383.70" x2="120.80" y2="386.30" stroke="#1a3559" stroke-width="1.0"/>
<line x1="123.80" y1="383.70" x2="123.80" y2="386.30" stroke="#1a3559" stroke-width="1.0"/>
<line x1="172.70" y1="410.90" x2="172.70" y2="413.50" stroke="#1a3559" stroke-width="1.0"/>
<line x1="203.50" y1="410.90" x2="203.50" y2="413.50" stroke="#1a3559" stroke-width="1.0"/>
<line x1="234.20" y1="410.90" x2="234.20" y2="413.50" stroke="#1a3559" stroke-width="1.0"/>
<text x="22.00" y="480.20" font-size="7.1" text-anchor="start" fill="#222" font-weight="normal" stroke="#222" stroke-width="0.16">Number at risk</text>
<line x1="25.00" y1="489.10" x2="39.00" y2="489.10" stroke="#264d80" stroke-width="1.6"/>
<text x="48.50" y="491.70" font-size="7.1" text-anchor="middle" fill="#222" font-weight="normal" stroke="#222" stroke-width="0.16">70</text>
<text x="67.60" y="491.70" font-size="7.1" text-anchor="middle" fill="#222" font-weight="normal" stroke="#222" stroke-width="0.16">36</text>
<text x="86.70" y="491.70" font-size="7.1" text-anchor="middle" fill="#222" font-weight="normal" stroke="#222" stroke-width="0.16">24</text>
<text x="105.80" y="491.70" font-size="7.1" text-anchor="middle" fill="#222" font-weight="normal" stroke="#222" stroke-width="0.16">15</text>
<text x="124.90" y="491.70" font-size="7.1" text-anchor="middle" fill="#222" font-weight="normal" stroke="#222" stroke-width="0.16">9</text>
<text x="144.00" y="491.70" font-size="7.1" text-anchor="middle" fill="#222" font-weight="normal" stroke="#222" stroke-width="0.16">6</text>
<text x="163.10" y="491.70" font-size="7.1" text-anchor="middle" fill="#222" font-weight="normal" stroke="#222" stroke-width="0.16">4</text>
<text x="182.20" y="491.70" font-size="7.1" text-anchor="middle" fill="#222" font-weight="normal" stroke="#222" stroke-width="0.16">2</text>
<text x="201.30" y="491.70" font-size="7.1" text-anchor="middle" fill="#222" font-weight="normal" stroke="#222" stroke-width="0.16">2</text>
<text x="220.40" y="491.70" font-size="7.1" text-anchor="middle" fill="#222" font-weight="normal" stroke="#222" stroke-width="0.16">1</text>
<text x="239.50" y="491.70" font-size="7.1" text-anchor="middle" fill="#222" font-weight="normal" stroke="#222" stroke-width="0.16">0</text>
<line x1="25.00" y1="500.40" x2="39.00" y2="500.40" stroke="#eda43a" stroke-width="1.6"/>
<text x="48.50" y="503.00" font-size="7.1" text-anchor="middle" fill="#222" font-weight="normal" stroke="#222" stroke-width="0.16">17</text>
<text x="67.60" y="503.00" font-size="7.1" text-anchor="middle" fill="#222" font-weight="normal" stroke="#222" stroke-width="0.16">5</text>
<text x="86.70" y="503.00" font-size="7.1" text-anchor="middle" fill="#222" font-weight="normal" stroke="#222" stroke-width="0.16">4</text>
<text x="105.80" y="503.00" font-size="7.1" text-anchor="middle" fill="#222" font-weight="normal" stroke="#222" stroke-width="0.16">3</text>
<text x="124.90" y="503.00" font-size="7.1" text-anchor="middle" fill="#222" font-weight="normal" stroke="#222" stroke-width="0.16">2</text>
<text x="144.00" y="503.00" font-size="7.1" text-anchor="middle" fill="#222" font-weight="normal" stroke="#222" stroke-width="0.16">0</text>
<text x="163.10" y="503.00" font-size="7.1" text-anchor="middle" fill="#222" font-weight="normal" stroke="#222" stroke-width="0.16">0</text>
<text x="182.20" y="503.00" font-size="7.1" text-anchor="middle" fill="#222" font-weight="normal" stroke="#222" stroke-width="0.16">0</text>
<text x="201.30" y="503.00" font-size="7.1" text-anchor="middle" fill="#222" font-weight="normal" stroke="#222" stroke-width="0.16">0</text>
<text x="220.40" y="503.00" font-size="7.1" text-anchor="middle" fill="#222" font-weight="normal" stroke="#222" stroke-width="0.16">0</text>
<text x="239.50" y="503.00" font-size="7.1" text-anchor="middle" fill="#222" font-weight="normal" stroke="#222" stroke-width="0.16">0</text>
<line x1="25.00" y1="511.70" x2="39.00" y2="511.70" stroke="#c22a4e" stroke-width="1.6"/>
<text x="48.50" y="514.30" font-size="7.1" text-anchor="middle" fill="#222" font-weight="normal" stroke="#222" stroke-width="0.16">25</text>
<text x="67.60" y="514.30" font-size="7.1" text-anchor="middle" fill="#222" font-weight="normal" stroke="#222" stroke-width="0.16">2</text>
<text x="86.70" y="514.30" font-size="7.1" text-anchor="middle" fill="#222" font-weight="normal" stroke="#222" stroke-width="0.16">0</text>
<text x="105.80" y="514.30" font-size="7.1" text-anchor="middle" fill="#222" font-weight="normal" stroke="#222" stroke-width="0.16">0</text>
<text x="124.90" y="514.30" font-size="7.1" text-anchor="middle" fill="#222" font-weight="normal" stroke="#222" stroke-width="0.16">0</text>
<text x="144.00" y="514.30" font-size="7.1" text-anchor="middle" fill="#222" font-weight="normal" stroke="#222" stroke-width="0.16">0</text>
<text x="163.10" y="514.30" font-size="7.1" text-anchor="middle" fill="#222" font-weight="normal" stroke="#222" stroke-width="0.16">0</text>
<text x="182.20" y="514.30" font-size="7.1" text-anchor="middle" fill="#222" font-weight="normal" stroke="#222" stroke-width="0.16">0</text>
<text x="201.30" y="514.30" font-size="7.1" text-anchor="middle" fill="#222" font-weight="normal" stroke="#222" stroke-width="0.16">0</text>
<text x="220.40" y="514.30" font-size="7.1" text-anchor="middle" fill="#222" font-weight="normal" stroke="#222" stroke-width="0.16">0</text>
<text x="239.50" y="514.30" font-size="7.1" text-anchor="middle" fill="#222" font-weight="normal" stroke="#222" stroke-width="0.16">0</text>
<text x="56.70" y="529.70" font-size="7.1" text-anchor="start" fill="#222" font-weight="normal" stroke="#222" stroke-width="0.16">MRD Status</text>
<line x1="100.97" y1="527.10" x2="108.97" y2="527.10" stroke="#264d80" stroke-width="1.2"/>
<line x1="104.97" y1="525.90" x2="104.97" y2="528.30" stroke="#264d80" stroke-width="0.8"/>
<text x="111.97" y="529.70" font-size="7.1" text-anchor="start" fill="#222" font-weight="normal" stroke="#222" stroke-width="0.16">Neg/Neg</text>
<line x1="147.39" y1="527.10" x2="155.39" y2="527.10" stroke="#eda43a" stroke-width="1.2"/>
<line x1="151.39" y1="525.90" x2="151.39" y2="528.30" stroke="#eda43a" stroke-width="0.8"/>
<text x="158.39" y="529.70" font-size="7.1" text-anchor="start" fill="#222" font-weight="normal" stroke="#222" stroke-width="0.16">Pos/Neg</text>
<line x1="193.02" y1="527.10" x2="201.02" y2="527.10" stroke="#c22a4e" stroke-width="1.2"/>
<line x1="197.02" y1="525.90" x2="197.02" y2="528.30" stroke="#c22a4e" stroke-width="0.8"/>
<text x="204.02" y="529.70" font-size="7.1" text-anchor="start" fill="#222" font-weight="normal" stroke="#222" stroke-width="0.16">Pos/Pos</text>
<text x="265.50" y="286.30" font-size="12.6" text-anchor="start" fill="#111" font-weight="bold" stroke="#111" stroke-width="0.35">D</text>
<text x="401.20" y="283.60" font-size="9.4" text-anchor="middle" fill="#1a1a1a" font-weight="normal" stroke="#1a1a1a" stroke-width="0.04">RFS by MRD Status at TP1 and TP2</text>
<text x="401.20" y="295.10" font-size="9.4" text-anchor="middle" fill="#1a1a1a" font-weight="normal" stroke="#1a1a1a" stroke-width="0.04">in SCT Patients</text>
<line x1="297.00" y1="301.00" x2="297.00" y2="442.00" stroke="#1a1a1a" stroke-width="1.6"/>
<line x1="296.20" y1="441.20" x2="506.50" y2="441.20" stroke="#1a1a1a" stroke-width="1.6"/>
<line x1="293.20" y1="306.50" x2="297.00" y2="306.50" stroke="#1a1a1a" stroke-width="1.1"/>
<text x="290.00" y="309.10" font-size="7.2" text-anchor="end" fill="#222" font-weight="normal" stroke="#222" stroke-width="0.16">1.0</text>
<line x1="293.20" y1="332.30" x2="297.00" y2="332.30" stroke="#1a1a1a" stroke-width="1.1"/>
<text x="290.00" y="334.90" font-size="7.2" text-anchor="end" fill="#222" font-weight="normal" stroke="#222" stroke-width="0.16">0.8</text>
<line x1="293.20" y1="358.10" x2="297.00" y2="358.10" stroke="#1a1a1a" stroke-width="1.1"/>
<text x="290.00" y="360.70" font-size="7.2" text-anchor="end" fill="#222" font-weight="normal" stroke="#222" stroke-width="0.16">0.6</text>
<line x1="293.20" y1="383.90" x2="297.00" y2="383.90" stroke="#1a1a1a" stroke-width="1.1"/>
<text x="290.00" y="386.50" font-size="7.2" text-anchor="end" fill="#222" font-weight="normal" stroke="#222" stroke-width="0.16">0.4</text>
<line x1="293.20" y1="409.70" x2="297.00" y2="409.70" stroke="#1a1a1a" stroke-width="1.1"/>
<text x="290.00" y="412.30" font-size="7.2" text-anchor="end" fill="#222" font-weight="normal" stroke="#222" stroke-width="0.16">0.2</text>
<line x1="293.20" y1="435.50" x2="297.00" y2="435.50" stroke="#1a1a1a" stroke-width="1.1"/>
<text x="290.00" y="438.10" font-size="7.2" text-anchor="end" fill="#222" font-weight="normal" stroke="#222" stroke-width="0.16">0.0</text>
<line x1="306.50" y1="441.20" x2="306.50" y2="444.80" stroke="#1a1a1a" stroke-width="1.1"/>
<text x="306.50" y="454.60" font-size="7.2" text-anchor="middle" fill="#222" font-weight="normal" stroke="#222" stroke-width="0.16">0</text>
<line x1="325.60" y1="441.20" x2="325.60" y2="444.80" stroke="#1a1a1a" stroke-width="1.1"/>
<text x="325.60" y="454.60" font-size="7.2" text-anchor="middle" fill="#222" font-weight="normal" stroke="#222" stroke-width="0.16">12</text>
<line x1="344.70" y1="441.20" x2="344.70" y2="444.80" stroke="#1a1a1a" stroke-width="1.1"/>
<text x="344.70" y="454.60" font-size="7.2" text-anchor="middle" fill="#222" font-weight="normal" stroke="#222" stroke-width="0.16">24</text>
<line x1="363.80" y1="441.20" x2="363.80" y2="444.80" stroke="#1a1a1a" stroke-width="1.1"/>
<text x="363.80" y="454.60" font-size="7.2" text-anchor="middle" fill="#222" font-weight="normal" stroke="#222" stroke-width="0.16">36</text>
<line x1="382.90" y1="441.20" x2="382.90" y2="444.80" stroke="#1a1a1a" stroke-width="1.1"/>
<text x="382.90" y="454.60" font-size="7.2" text-anchor="middle" fill="#222" font-weight="normal" stroke="#222" stroke-width="0.16">48</text>
<line x1="402.00" y1="441.20" x2="402.00" y2="444.80" stroke="#1a1a1a" stroke-width="1.1"/>
<text x="402.00" y="454.60" font-size="7.2" text-anchor="middle" fill="#222" font-weight="normal" stroke="#222" stroke-width="0.16">60</text>
<line x1="421.10" y1="441.20" x2="421.10" y2="444.80" stroke="#1a1a1a" stroke-width="1.1"/>
<text x="421.10" y="454.60" font-size="7.2" text-anchor="middle" fill="#222" font-weight="normal" stroke="#222" stroke-width="0.16">72</text>
<line x1="440.20" y1="441.20" x2="440.20" y2="444.80" stroke="#1a1a1a" stroke-width="1.1"/>
<text x="440.20" y="454.60" font-size="7.2" text-anchor="middle" fill="#222" font-weight="normal" stroke="#222" stroke-width="0.16">84</text>
<line x1="459.30" y1="441.20" x2="459.30" y2="444.80" stroke="#1a1a1a" stroke-width="1.1"/>
<text x="459.30" y="454.60" font-size="7.2" text-anchor="middle" fill="#222" font-weight="normal" stroke="#222" stroke-width="0.16">96</text>
<line x1="478.40" y1="441.20" x2="478.40" y2="444.80" stroke="#1a1a1a" stroke-width="1.1"/>
<text x="478.40" y="454.60" font-size="7.2" text-anchor="middle" fill="#222" font-weight="normal" stroke="#222" stroke-width="0.16">108</text>
<line x1="497.50" y1="441.20" x2="497.50" y2="444.80" stroke="#1a1a1a" stroke-width="1.1"/>
<text x="497.50" y="454.60" font-size="7.2" text-anchor="middle" fill="#222" font-weight="normal" stroke="#222" stroke-width="0.16">120</text>
<text transform="translate(402.00,467.90) scale(0.672,1)" font-size="9.9" text-anchor="middle" fill="#1a1a1a" stroke="#1a1a1a" stroke-width="0.45" x="0" y="0">Time from TP2 assessment (months)</text>
<text transform="translate(273.10,371.00) rotate(-90) scale(0.8,1)" font-size="8.2" text-anchor="middle" fill="#1a1a1a" stroke="#1a1a1a" stroke-width="0.42" x="0" y="0">Relapse-free survival</text>
<polyline points="306.00,307.20 310.30,307.20 311.20,314.30 312.20,323.50 313.40,329.70 314.30,336.50 315.20,341.40 317.10,343.80 318.30,347.50 319.20,350.00 319.20,365.40 324.60,365.40 324.60,370.80 357.20,370.80 357.20,379.50 402.60,379.50 402.60,398.50 433.10,398.50" fill="none" stroke="#c22a4e" stroke-width="1.5" stroke-linejoin="miter"/>
<line x1="345.60" y1="369.50" x2="345.60" y2="372.10" stroke="#871d36" stroke-width="1.0"/>
<line x1="349.20" y1="369.50" x2="349.20" y2="372.10" stroke="#871d36" stroke-width="1.0"/>
<line x1="371.20" y1="378.20" x2="371.20" y2="380.80" stroke="#871d36" stroke-width="1.0"/>
<line x1="385.80" y1="378.20" x2="385.80" y2="380.80" stroke="#871d36" stroke-width="1.0"/>
<polyline points="306.00,307.20 307.50,307.20 307.50,312.00 310.00,321.00 314.90,321.70 318.00,327.80 318.90,339.00 319.50,341.50 322.30,341.50 322.30,346.20 326.90,346.20 326.90,353.10 368.50,353.10 368.50,362.00 483.10,362.00" fill="none" stroke="#eda43a" stroke-width="1.5" stroke-linejoin="miter"/>
<line x1="334.60" y1="351.80" x2="334.60" y2="354.40" stroke="#a57228" stroke-width="1.0"/>
<line x1="351.10" y1="351.80" x2="351.10" y2="354.40" stroke="#a57228" stroke-width="1.0"/>
<line x1="358.40" y1="351.80" x2="358.40" y2="354.40" stroke="#a57228" stroke-width="1.0"/>
<line x1="373.00" y1="360.70" x2="373.00" y2="363.30" stroke="#a57228" stroke-width="1.0"/>
<line x1="407.70" y1="360.70" x2="407.70" y2="363.30" stroke="#a57228" stroke-width="1.0"/>
<line x1="426.00" y1="360.70" x2="426.00" y2="363.30" stroke="#a57228" stroke-width="1.0"/>
<line x1="436.90" y1="360.70" x2="436.90" y2="363.30" stroke="#a57228" stroke-width="1.0"/>
<line x1="451.50" y1="360.70" x2="451.50" y2="363.30" stroke="#a57228" stroke-width="1.0"/>
<line x1="466.10" y1="360.70" x2="466.10" y2="363.30" stroke="#a57228" stroke-width="1.0"/>
<line x1="475.30" y1="360.70" x2="475.30" y2="363.30" stroke="#a57228" stroke-width="1.0"/>
<polyline points="306.00,307.20 310.30,307.20 311.80,317.40 313.70,324.20 316.20,327.80 319.20,330.90 321.10,334.00 324.20,335.50 326.60,337.10 337.70,337.10 340.00,340.30 346.20,341.50 364.60,341.80 367.70,343.80 372.30,345.40 376.90,347.70 390.80,347.70 390.80,350.30 443.80,350.30 443.80,356.20 460.00,356.20 460.00,364.30 491.50,364.30 491.50,376.20 505.40,376.20" fill="none" stroke="#264d80" stroke-width="1.5" stroke-linejoin="miter"/>
<line x1="325.50" y1="335.07" x2="325.50" y2="337.67" stroke="#1a3559" stroke-width="1.0"/>
<line x1="331.00" y1="335.80" x2="331.00" y2="338.40" stroke="#1a3559" stroke-width="1.0"/>
<line x1="336.40" y1="335.80" x2="336.40" y2="338.40" stroke="#1a3559" stroke-width="1.0"/>
<line x1="341.90" y1="339.37" x2="341.90" y2="341.97" stroke="#1a3559" stroke-width="1.0"/>
<line x1="351.10" y1="340.28" x2="351.10" y2="342.88" stroke="#1a3559" stroke-width="1.0"/>
<line x1="356.50" y1="340.37" x2="356.50" y2="342.97" stroke="#1a3559" stroke-width="1.0"/>
<line x1="365.70" y1="341.21" x2="365.70" y2="343.81" stroke="#1a3559" stroke-width="1.0"/>
<line x1="374.80" y1="345.35" x2="374.80" y2="347.95" stroke="#1a3559" stroke-width="1.0"/>
<line x1="383.90" y1="346.40" x2="383.90" y2="349.00" stroke="#1a3559" stroke-width="1.0"/>
<line x1="391.20" y1="349.00" x2="391.20" y2="351.60" stroke="#1a3559" stroke-width="1.0"/>
<line x1="398.60" y1="349.00" x2="398.60" y2="351.60" stroke="#1a3559" stroke-width="1.0"/>
<line x1="405.90" y1="349.00" x2="405.90" y2="351.60" stroke="#1a3559" stroke-width="1.0"/>
<line x1="413.20" y1="349.00" x2="413.20" y2="351.60" stroke="#1a3559" stroke-width="1.0"/>
<line x1="418.60" y1="349.00" x2="418.60" y2="351.60" stroke="#1a3559" stroke-width="1.0"/>
<line x1="426.00" y1="349.00" x2="426.00" y2="351.60" stroke="#1a3559" stroke-width="1.0"/>
<line x1="431.40" y1="349.00" x2="431.40" y2="351.60" stroke="#1a3559" stroke-width="1.0"/>
<line x1="438.70" y1="349.00" x2="438.70" y2="351.60" stroke="#1a3559" stroke-width="1.0"/>
<line x1="449.70" y1="354.90" x2="449.70" y2="357.50" stroke="#1a3559" stroke-width="1.0"/>
<line x1="457.00" y1="354.90" x2="457.00" y2="357.50" stroke="#1a3559" stroke-width="1.0"/>
<line x1="464.30" y1="363.00" x2="464.30" y2="365.60" stroke="#1a3559" stroke-width="1.0"/>
<line x1="471.60" y1="363.00" x2="471.60" y2="365.60" stroke="#1a3559" stroke-width="1.0"/>
<line x1="482.60" y1="363.00" x2="482.60" y2="365.60" stroke="#1a3559" stroke-width="1.0"/>
<line x1="495.40" y1="374.90" x2="495.40" y2="377.50" stroke="#1a3559" stroke-width="1.0"/>
<line x1="504.50" y1="374.90" x2="504.50" y2="377.50" stroke="#1a3559" stroke-width="1.0"/>
<text x="279.50" y="480.40" font-size="7.1" text-anchor="start" fill="#222" font-weight="normal" stroke="#222" stroke-width="0.16">Number at risk</text>
<line x1="282.50" y1="489.30" x2="296.50" y2="489.30" stroke="#264d80" stroke-width="1.6"/>
<text x="306.50" y="491.90" font-size="7.1" text-anchor="middle" fill="#222" font-weight="normal" stroke="#222" stroke-width="0.16">117</text>
<text x="325.60" y="491.90" font-size="7.1" text-anchor="middle" fill="#222" font-weight="normal" stroke="#222" stroke-width="0.16">82</text>
<text x="344.70" y="491.90" font-size="7.1" text-anchor="middle" fill="#222" font-weight="normal" stroke="#222" stroke-width="0.16">61</text>
<text x="363.80" y="491.90" font-size="7.1" text-anchor="middle" fill="#222" font-weight="normal" stroke="#222" stroke-width="0.16">51</text>
<text x="382.90" y="491.90" font-size="7.1" text-anchor="middle" fill="#222" font-weight="normal" stroke="#222" stroke-width="0.16">39</text>
<text x="402.00" y="491.90" font-size="7.1" text-anchor="middle" fill="#222" font-weight="normal" stroke="#222" stroke-width="0.16">30</text>
<text x="421.10" y="491.90" font-size="7.1" text-anchor="middle" fill="#222" font-weight="normal" stroke="#222" stroke-width="0.16">23</text>
<text x="440.20" y="491.90" font-size="7.1" text-anchor="middle" fill="#222" font-weight="normal" stroke="#222" stroke-width="0.16">15</text>
<text x="459.30" y="491.90" font-size="7.1" text-anchor="middle" fill="#222" font-weight="normal" stroke="#222" stroke-width="0.16">10</text>
<text x="478.40" y="491.90" font-size="7.1" text-anchor="middle" fill="#222" font-weight="normal" stroke="#222" stroke-width="0.16">8</text>
<text x="497.50" y="491.90" font-size="7.1" text-anchor="middle" fill="#222" font-weight="normal" stroke="#222" stroke-width="0.16">4</text>
<line x1="282.50" y1="500.60" x2="296.50" y2="500.60" stroke="#eda43a" stroke-width="1.6"/>
<text x="306.50" y="503.20" font-size="7.1" text-anchor="middle" fill="#222" font-weight="normal" stroke="#222" stroke-width="0.16">26</text>
<text x="325.60" y="503.20" font-size="7.1" text-anchor="middle" fill="#222" font-weight="normal" stroke="#222" stroke-width="0.16">17</text>
<text x="344.70" y="503.20" font-size="7.1" text-anchor="middle" fill="#222" font-weight="normal" stroke="#222" stroke-width="0.16">12</text>
<text x="363.80" y="503.20" font-size="7.1" text-anchor="middle" fill="#222" font-weight="normal" stroke="#222" stroke-width="0.16">9</text>
<text x="382.90" y="503.20" font-size="7.1" text-anchor="middle" fill="#222" font-weight="normal" stroke="#222" stroke-width="0.16">7</text>
<text x="402.00" y="503.20" font-size="7.1" text-anchor="middle" fill="#222" font-weight="normal" stroke="#222" stroke-width="0.16">6</text>
<text x="421.10" y="503.20" font-size="7.1" text-anchor="middle" fill="#222" font-weight="normal" stroke="#222" stroke-width="0.16">6</text>
<text x="440.20" y="503.20" font-size="7.1" text-anchor="middle" fill="#222" font-weight="normal" stroke="#222" stroke-width="0.16">4</text>
<text x="459.30" y="503.20" font-size="7.1" text-anchor="middle" fill="#222" font-weight="normal" stroke="#222" stroke-width="0.16">1</text>
<text x="478.40" y="503.20" font-size="7.1" text-anchor="middle" fill="#222" font-weight="normal" stroke="#222" stroke-width="0.16">1</text>
<text x="497.50" y="503.20" font-size="7.1" text-anchor="middle" fill="#222" font-weight="normal" stroke="#222" stroke-width="0.16">0</text>
<line x1="282.50" y1="511.90" x2="296.50" y2="511.90" stroke="#c22a4e" stroke-width="1.6"/>
<text x="306.50" y="514.50" font-size="7.1" text-anchor="middle" fill="#222" font-weight="normal" stroke="#222" stroke-width="0.16">22</text>
<text x="325.60" y="514.50" font-size="7.1" text-anchor="middle" fill="#222" font-weight="normal" stroke="#222" stroke-width="0.16">12</text>
<text x="344.70" y="514.50" font-size="7.1" text-anchor="middle" fill="#222" font-weight="normal" stroke="#222" stroke-width="0.16">10</text>
<text x="363.80" y="514.50" font-size="7.1" text-anchor="middle" fill="#222" font-weight="normal" stroke="#222" stroke-width="0.16">6</text>
<text x="382.90" y="514.50" font-size="7.1" text-anchor="middle" fill="#222" font-weight="normal" stroke="#222" stroke-width="0.16">4</text>
<text x="402.00" y="514.50" font-size="7.1" text-anchor="middle" fill="#222" font-weight="normal" stroke="#222" stroke-width="0.16">3</text>
<text x="421.10" y="514.50" font-size="7.1" text-anchor="middle" fill="#222" font-weight="normal" stroke="#222" stroke-width="0.16">2</text>
<text x="440.20" y="514.50" font-size="7.1" text-anchor="middle" fill="#222" font-weight="normal" stroke="#222" stroke-width="0.16">0</text>
<text x="459.30" y="514.50" font-size="7.1" text-anchor="middle" fill="#222" font-weight="normal" stroke="#222" stroke-width="0.16">0</text>
<text x="478.40" y="514.50" font-size="7.1" text-anchor="middle" fill="#222" font-weight="normal" stroke="#222" stroke-width="0.16">0</text>
<text x="497.50" y="514.50" font-size="7.1" text-anchor="middle" fill="#222" font-weight="normal" stroke="#222" stroke-width="0.16">0</text>
<text x="313.75" y="529.90" font-size="7.1" text-anchor="start" fill="#222" font-weight="normal" stroke="#222" stroke-width="0.16">MRD Status</text>
<line x1="358.02" y1="527.30" x2="366.02" y2="527.30" stroke="#264d80" stroke-width="1.2"/>
<line x1="362.02" y1="526.10" x2="362.02" y2="528.50" stroke="#264d80" stroke-width="0.8"/>
<text x="369.02" y="529.90" font-size="7.1" text-anchor="start" fill="#222" font-weight="normal" stroke="#222" stroke-width="0.16">Neg/Neg</text>
<line x1="404.44" y1="527.30" x2="412.44" y2="527.30" stroke="#eda43a" stroke-width="1.2"/>
<line x1="408.44" y1="526.10" x2="408.44" y2="528.50" stroke="#eda43a" stroke-width="0.8"/>
<text x="415.44" y="529.90" font-size="7.1" text-anchor="start" fill="#222" font-weight="normal" stroke="#222" stroke-width="0.16">Pos/Neg</text>
<line x1="450.07" y1="527.30" x2="458.07" y2="527.30" stroke="#c22a4e" stroke-width="1.2"/>
<line x1="454.07" y1="526.10" x2="454.07" y2="528.50" stroke="#c22a4e" stroke-width="0.8"/>
<text x="461.07" y="529.90" font-size="7.1" text-anchor="start" fill="#222" font-weight="normal" stroke="#222" stroke-width="0.16">Pos/Pos</text>
<text x="7.50" y="553.00" font-size="12.6" text-anchor="start" fill="#111" font-weight="bold" stroke="#111" stroke-width="0.35">E</text>
<text x="145.40" y="550.60" font-size="9.4" text-anchor="middle" fill="#1a1a1a" font-weight="normal" stroke="#1a1a1a" stroke-width="0.04">Landmark Analysis of RFS in MRD</text>
<text x="145.40" y="562.10" font-size="9.4" text-anchor="middle" fill="#1a1a1a" font-weight="normal" stroke="#1a1a1a" stroke-width="0.04">Neg/Neg</text>
<line x1="39.00" y1="568.10" x2="39.00" y2="711.40" stroke="#1a1a1a" stroke-width="1.6"/>
<line x1="38.20" y1="710.60" x2="254.50" y2="710.60" stroke="#1a1a1a" stroke-width="1.6"/>
<line x1="35.20" y1="574.20" x2="39.00" y2="574.20" stroke="#1a1a1a" stroke-width="1.1"/>
<text x="32.00" y="576.80" font-size="7.2" text-anchor="end" fill="#222" font-weight="normal" stroke="#222" stroke-width="0.16">1.0</text>
<line x1="35.20" y1="600.25" x2="39.00" y2="600.25" stroke="#1a1a1a" stroke-width="1.1"/>
<text x="32.00" y="602.85" font-size="7.2" text-anchor="end" fill="#222" font-weight="normal" stroke="#222" stroke-width="0.16">0.8</text>
<line x1="35.20" y1="626.30" x2="39.00" y2="626.30" stroke="#1a1a1a" stroke-width="1.1"/>
<text x="32.00" y="628.90" font-size="7.2" text-anchor="end" fill="#222" font-weight="normal" stroke="#222" stroke-width="0.16">0.6</text>
<line x1="35.20" y1="652.35" x2="39.00" y2="652.35" stroke="#1a1a1a" stroke-width="1.1"/>
<text x="32.00" y="654.95" font-size="7.2" text-anchor="end" fill="#222" font-weight="normal" stroke="#222" stroke-width="0.16">0.4</text>
<line x1="35.20" y1="678.40" x2="39.00" y2="678.40" stroke="#1a1a1a" stroke-width="1.1"/>
<text x="32.00" y="681.00" font-size="7.2" text-anchor="end" fill="#222" font-weight="normal" stroke="#222" stroke-width="0.16">0.2</text>
<line x1="35.20" y1="704.45" x2="39.00" y2="704.45" stroke="#1a1a1a" stroke-width="1.1"/>
<text x="32.00" y="707.05" font-size="7.2" text-anchor="end" fill="#222" font-weight="normal" stroke="#222" stroke-width="0.16">0.0</text>
<line x1="48.75" y1="710.60" x2="48.75" y2="714.20" stroke="#1a1a1a" stroke-width="1.1"/>
<text x="48.75" y="724.00" font-size="7.2" text-anchor="middle" fill="#222" font-weight="normal" stroke="#222" stroke-width="0.16">0</text>
<line x1="68.35" y1="710.60" x2="68.35" y2="714.20" stroke="#1a1a1a" stroke-width="1.1"/>
<text x="68.35" y="724.00" font-size="7.2" text-anchor="middle" fill="#222" font-weight="normal" stroke="#222" stroke-width="0.16">12</text>
<line x1="87.95" y1="710.60" x2="87.95" y2="714.20" stroke="#1a1a1a" stroke-width="1.1"/>
<text x="87.95" y="724.00" font-size="7.2" text-anchor="middle" fill="#222" font-weight="normal" stroke="#222" stroke-width="0.16">24</text>
<line x1="107.55" y1="710.60" x2="107.55" y2="714.20" stroke="#1a1a1a" stroke-width="1.1"/>
<text x="107.55" y="724.00" font-size="7.2" text-anchor="middle" fill="#222" font-weight="normal" stroke="#222" stroke-width="0.16">36</text>
<line x1="127.15" y1="710.60" x2="127.15" y2="714.20" stroke="#1a1a1a" stroke-width="1.1"/>
<text x="127.15" y="724.00" font-size="7.2" text-anchor="middle" fill="#222" font-weight="normal" stroke="#222" stroke-width="0.16">48</text>
<line x1="146.75" y1="710.60" x2="146.75" y2="714.20" stroke="#1a1a1a" stroke-width="1.1"/>
<text x="146.75" y="724.00" font-size="7.2" text-anchor="middle" fill="#222" font-weight="normal" stroke="#222" stroke-width="0.16">60</text>
<line x1="166.35" y1="710.60" x2="166.35" y2="714.20" stroke="#1a1a1a" stroke-width="1.1"/>
<text x="166.35" y="724.00" font-size="7.2" text-anchor="middle" fill="#222" font-weight="normal" stroke="#222" stroke-width="0.16">72</text>
<line x1="185.95" y1="710.60" x2="185.95" y2="714.20" stroke="#1a1a1a" stroke-width="1.1"/>
<text x="185.95" y="724.00" font-size="7.2" text-anchor="middle" fill="#222" font-weight="normal" stroke="#222" stroke-width="0.16">84</text>
<line x1="205.55" y1="710.60" x2="205.55" y2="714.20" stroke="#1a1a1a" stroke-width="1.1"/>
<text x="205.55" y="724.00" font-size="7.2" text-anchor="middle" fill="#222" font-weight="normal" stroke="#222" stroke-width="0.16">96</text>
<line x1="225.15" y1="710.60" x2="225.15" y2="714.20" stroke="#1a1a1a" stroke-width="1.1"/>
<text x="225.15" y="724.00" font-size="7.2" text-anchor="middle" fill="#222" font-weight="normal" stroke="#222" stroke-width="0.16">108</text>
<line x1="244.75" y1="710.60" x2="244.75" y2="714.20" stroke="#1a1a1a" stroke-width="1.1"/>
<text x="244.75" y="724.00" font-size="7.2" text-anchor="middle" fill="#222" font-weight="normal" stroke="#222" stroke-width="0.16">120</text>
<text transform="translate(146.75,737.30) scale(0.7,1)" font-size="9.9" text-anchor="middle" fill="#1a1a1a" stroke="#1a1a1a" stroke-width="0.45" x="0" y="0">Time from landmark (months)</text>
<text transform="translate(15.10,639.33) rotate(-90) scale(0.8,1)" font-size="8.2" text-anchor="middle" fill="#1a1a1a" stroke="#1a1a1a" stroke-width="0.42" x="0" y="0">Relapse-free survival</text>
<polyline points="49.40,574.40 51.10,580.00 51.90,582.50 54.20,592.30 57.20,606.90 61.25,616.25 63.40,623.80 67.20,623.80 67.20,630.00 74.20,630.00 75.70,640.80 87.20,640.80 87.20,643.10 92.60,643.10 92.60,648.50 101.10,648.50 101.10,652.30 135.80,652.30 135.80,658.20 142.60,658.20 142.60,664.30 149.70,664.30 149.70,672.60 166.60,672.60 166.60,680.70 238.50,680.70" fill="none" stroke="#b8712c" stroke-width="1.25" stroke-linejoin="miter"/>
<line x1="92.70" y1="647.20" x2="92.70" y2="649.80" stroke="#804f1e" stroke-width="1.0"/>
<line x1="96.50" y1="647.20" x2="96.50" y2="649.80" stroke="#804f1e" stroke-width="1.0"/>
<line x1="108.10" y1="651.00" x2="108.10" y2="653.60" stroke="#804f1e" stroke-width="1.0"/>
<line x1="117.70" y1="651.00" x2="117.70" y2="653.60" stroke="#804f1e" stroke-width="1.0"/>
<line x1="123.50" y1="651.00" x2="123.50" y2="653.60" stroke="#804f1e" stroke-width="1.0"/>
<line x1="175.40" y1="679.40" x2="175.40" y2="682.00" stroke="#804f1e" stroke-width="1.0"/>
<line x1="206.20" y1="679.40" x2="206.20" y2="682.00" stroke="#804f1e" stroke-width="1.0"/>
<line x1="238.30" y1="679.40" x2="238.30" y2="682.00" stroke="#804f1e" stroke-width="1.0"/>
<polyline points="49.40,574.40 51.10,580.00 53.00,585.00 54.90,593.10 57.50,596.25 60.30,601.50 64.20,603.10 67.20,605.40 81.80,605.40 81.80,608.50 89.50,608.50 90.30,610.00 106.50,610.00 110.30,613.60 119.50,613.60 119.50,615.80 135.40,615.80 135.40,618.50 188.50,618.50 188.50,625.10 206.90,625.10 206.90,633.10 238.50,633.10 238.50,644.90 254.60,644.90" fill="none" stroke="#40a8dc" stroke-width="1.25" stroke-linejoin="miter"/>
<line x1="67.70" y1="604.10" x2="67.70" y2="606.70" stroke="#2c759a" stroke-width="1.0"/>
<line x1="73.50" y1="604.10" x2="73.50" y2="606.70" stroke="#2c759a" stroke-width="1.0"/>
<line x1="79.20" y1="604.10" x2="79.20" y2="606.70" stroke="#2c759a" stroke-width="1.0"/>
<line x1="90.80" y1="608.70" x2="90.80" y2="611.30" stroke="#2c759a" stroke-width="1.0"/>
<line x1="96.50" y1="608.70" x2="96.50" y2="611.30" stroke="#2c759a" stroke-width="1.0"/>
<line x1="102.30" y1="608.70" x2="102.30" y2="611.30" stroke="#2c759a" stroke-width="1.0"/>
<line x1="113.80" y1="612.30" x2="113.80" y2="614.90" stroke="#2c759a" stroke-width="1.0"/>
<line x1="127.30" y1="614.50" x2="127.30" y2="617.10" stroke="#2c759a" stroke-width="1.0"/>
<line x1="140.80" y1="617.20" x2="140.80" y2="619.80" stroke="#2c759a" stroke-width="1.0"/>
<line x1="148.50" y1="617.20" x2="148.50" y2="619.80" stroke="#2c759a" stroke-width="1.0"/>
<line x1="156.20" y1="617.20" x2="156.20" y2="619.80" stroke="#2c759a" stroke-width="1.0"/>
<line x1="163.80" y1="617.20" x2="163.80" y2="619.80" stroke="#2c759a" stroke-width="1.0"/>
<line x1="169.60" y1="617.20" x2="169.60" y2="619.80" stroke="#2c759a" stroke-width="1.0"/>
<line x1="175.40" y1="617.20" x2="175.40" y2="619.80" stroke="#2c759a" stroke-width="1.0"/>
<line x1="192.70" y1="623.80" x2="192.70" y2="626.40" stroke="#2c759a" stroke-width="1.0"/>
<line x1="211.90" y1="631.80" x2="211.90" y2="634.40" stroke="#2c759a" stroke-width="1.0"/>
<line x1="225.40" y1="631.80" x2="225.40" y2="634.40" stroke="#2c759a" stroke-width="1.0"/>
<line x1="240.80" y1="643.60" x2="240.80" y2="646.20" stroke="#2c759a" stroke-width="1.0"/>
<line x1="248.50" y1="643.60" x2="248.50" y2="646.20" stroke="#2c759a" stroke-width="1.0"/>
<line x1="254.20" y1="643.60" x2="254.20" y2="646.20" stroke="#2c759a" stroke-width="1.0"/>
<text x="22.00" y="749.50" font-size="7.1" text-anchor="start" fill="#222" font-weight="normal" stroke="#222" stroke-width="0.16">Number at risk</text>
<line x1="25.00" y1="758.10" x2="39.00" y2="758.10" stroke="#4aa3b6" stroke-width="1.6"/>
<text x="48.75" y="760.70" font-size="7.1" text-anchor="middle" fill="#222" font-weight="normal" stroke="#222" stroke-width="0.16">117</text>
<text x="68.35" y="760.70" font-size="7.1" text-anchor="middle" fill="#222" font-weight="normal" stroke="#222" stroke-width="0.16">74</text>
<text x="87.95" y="760.70" font-size="7.1" text-anchor="middle" fill="#222" font-weight="normal" stroke="#222" stroke-width="0.16">59</text>
<text x="107.55" y="760.70" font-size="7.1" text-anchor="middle" fill="#222" font-weight="normal" stroke="#222" stroke-width="0.16">49</text>
<text x="127.15" y="760.70" font-size="7.1" text-anchor="middle" fill="#222" font-weight="normal" stroke="#222" stroke-width="0.16">38</text>
<text x="146.75" y="760.70" font-size="7.1" text-anchor="middle" fill="#222" font-weight="normal" stroke="#222" stroke-width="0.16">30</text>
<text x="166.35" y="760.70" font-size="7.1" text-anchor="middle" fill="#222" font-weight="normal" stroke="#222" stroke-width="0.16">22</text>
<text x="185.95" y="760.70" font-size="7.1" text-anchor="middle" fill="#222" font-weight="normal" stroke="#222" stroke-width="0.16">14</text>
<text x="205.55" y="760.70" font-size="7.1" text-anchor="middle" fill="#222" font-weight="normal" stroke="#222" stroke-width="0.16">10</text>
<text x="225.15" y="760.70" font-size="7.1" text-anchor="middle" fill="#222" font-weight="normal" stroke="#222" stroke-width="0.16">8</text>
<text x="244.75" y="760.70" font-size="7.1" text-anchor="middle" fill="#222" font-weight="normal" stroke="#222" stroke-width="0.16">4</text>
<line x1="25.00" y1="769.40" x2="39.00" y2="769.40" stroke="#94602f" stroke-width="1.6"/>
<text x="48.75" y="772.00" font-size="7.1" text-anchor="middle" fill="#222" font-weight="normal" stroke="#222" stroke-width="0.16">69</text>
<text x="68.35" y="772.00" font-size="7.1" text-anchor="middle" fill="#222" font-weight="normal" stroke="#222" stroke-width="0.16">33</text>
<text x="87.95" y="772.00" font-size="7.1" text-anchor="middle" fill="#222" font-weight="normal" stroke="#222" stroke-width="0.16">23</text>
<text x="107.55" y="772.00" font-size="7.1" text-anchor="middle" fill="#222" font-weight="normal" stroke="#222" stroke-width="0.16">13</text>
<text x="127.15" y="772.00" font-size="7.1" text-anchor="middle" fill="#222" font-weight="normal" stroke="#222" stroke-width="0.16">9</text>
<text x="146.75" y="772.00" font-size="7.1" text-anchor="middle" fill="#222" font-weight="normal" stroke="#222" stroke-width="0.16">6</text>
<text x="166.35" y="772.00" font-size="7.1" text-anchor="middle" fill="#222" font-weight="normal" stroke="#222" stroke-width="0.16">4</text>
<text x="185.95" y="772.00" font-size="7.1" text-anchor="middle" fill="#222" font-weight="normal" stroke="#222" stroke-width="0.16">2</text>
<text x="205.55" y="772.00" font-size="7.1" text-anchor="middle" fill="#222" font-weight="normal" stroke="#222" stroke-width="0.16">1</text>
<text x="225.15" y="772.00" font-size="7.1" text-anchor="middle" fill="#222" font-weight="normal" stroke="#222" stroke-width="0.16">1</text>
<text x="244.75" y="772.00" font-size="7.1" text-anchor="middle" fill="#222" font-weight="normal" stroke="#222" stroke-width="0.16">0</text>
<text x="90.00" y="787.90" font-size="7.1" text-anchor="start" fill="#222" font-weight="normal" stroke="#222" stroke-width="0.16">SCT in CR1</text>
<line x1="133.75" y1="785.30" x2="141.75" y2="785.30" stroke="#2f5a8c" stroke-width="1.2"/>
<line x1="137.75" y1="784.10" x2="137.75" y2="786.50" stroke="#2f5a8c" stroke-width="0.8"/>
<text x="144.75" y="787.90" font-size="7.1" text-anchor="start" fill="#222" font-weight="normal" stroke="#222" stroke-width="0.16">SCT</text>
<line x1="166.35" y1="785.30" x2="174.35" y2="785.30" stroke="#eaa640" stroke-width="1.2"/>
<line x1="170.35" y1="784.10" x2="170.35" y2="786.50" stroke="#eaa640" stroke-width="0.8"/>
<text x="177.35" y="787.90" font-size="7.1" text-anchor="start" fill="#222" font-weight="normal" stroke="#222" stroke-width="0.16">No SCT</text>
<text x="266.25" y="553.00" font-size="12.6" text-anchor="start" fill="#111" font-weight="bold" stroke="#111" stroke-width="0.35">F</text>
<text x="399.50" y="550.60" font-size="9.4" text-anchor="middle" fill="#1a1a1a" font-weight="normal" stroke="#1a1a1a" stroke-width="0.04">Landmark Analysis of RFS in MRD</text>
<text x="399.50" y="562.10" font-size="9.4" text-anchor="middle" fill="#1a1a1a" font-weight="normal" stroke="#1a1a1a" stroke-width="0.04">Neg/Neg ELN Intermediate</text>
<line x1="296.80" y1="567.50" x2="296.80" y2="711.60" stroke="#1a1a1a" stroke-width="1.6"/>
<line x1="296.00" y1="710.80" x2="512.00" y2="710.80" stroke="#1a1a1a" stroke-width="1.6"/>
<line x1="293.00" y1="573.90" x2="296.80" y2="573.90" stroke="#1a1a1a" stroke-width="1.1"/>
<text x="289.80" y="576.50" font-size="7.2" text-anchor="end" fill="#222" font-weight="normal" stroke="#222" stroke-width="0.16">1.0</text>
<line x1="293.00" y1="600.00" x2="296.80" y2="600.00" stroke="#1a1a1a" stroke-width="1.1"/>
<text x="289.80" y="602.60" font-size="7.2" text-anchor="end" fill="#222" font-weight="normal" stroke="#222" stroke-width="0.16">0.8</text>
<line x1="293.00" y1="626.10" x2="296.80" y2="626.10" stroke="#1a1a1a" stroke-width="1.1"/>
<text x="289.80" y="628.70" font-size="7.2" text-anchor="end" fill="#222" font-weight="normal" stroke="#222" stroke-width="0.16">0.6</text>
<line x1="293.00" y1="652.20" x2="296.80" y2="652.20" stroke="#1a1a1a" stroke-width="1.1"/>
<text x="289.80" y="654.80" font-size="7.2" text-anchor="end" fill="#222" font-weight="normal" stroke="#222" stroke-width="0.16">0.4</text>
<line x1="293.00" y1="678.30" x2="296.80" y2="678.30" stroke="#1a1a1a" stroke-width="1.1"/>
<text x="289.80" y="680.90" font-size="7.2" text-anchor="end" fill="#222" font-weight="normal" stroke="#222" stroke-width="0.16">0.2</text>
<line x1="293.00" y1="704.40" x2="296.80" y2="704.40" stroke="#1a1a1a" stroke-width="1.1"/>
<text x="289.80" y="707.00" font-size="7.2" text-anchor="end" fill="#222" font-weight="normal" stroke="#222" stroke-width="0.16">0.0</text>
<line x1="306.30" y1="710.80" x2="306.30" y2="714.40" stroke="#1a1a1a" stroke-width="1.1"/>
<text x="306.30" y="724.20" font-size="7.2" text-anchor="middle" fill="#222" font-weight="normal" stroke="#222" stroke-width="0.16">0</text>
<line x1="325.90" y1="710.80" x2="325.90" y2="714.40" stroke="#1a1a1a" stroke-width="1.1"/>
<text x="325.90" y="724.20" font-size="7.2" text-anchor="middle" fill="#222" font-weight="normal" stroke="#222" stroke-width="0.16">12</text>
<line x1="345.50" y1="710.80" x2="345.50" y2="714.40" stroke="#1a1a1a" stroke-width="1.1"/>
<text x="345.50" y="724.20" font-size="7.2" text-anchor="middle" fill="#222" font-weight="normal" stroke="#222" stroke-width="0.16">24</text>
<line x1="365.10" y1="710.80" x2="365.10" y2="714.40" stroke="#1a1a1a" stroke-width="1.1"/>
<text x="365.10" y="724.20" font-size="7.2" text-anchor="middle" fill="#222" font-weight="normal" stroke="#222" stroke-width="0.16">36</text>
<line x1="384.70" y1="710.80" x2="384.70" y2="714.40" stroke="#1a1a1a" stroke-width="1.1"/>
<text x="384.70" y="724.20" font-size="7.2" text-anchor="middle" fill="#222" font-weight="normal" stroke="#222" stroke-width="0.16">48</text>
<line x1="404.30" y1="710.80" x2="404.30" y2="714.40" stroke="#1a1a1a" stroke-width="1.1"/>
<text x="404.30" y="724.20" font-size="7.2" text-anchor="middle" fill="#222" font-weight="normal" stroke="#222" stroke-width="0.16">60</text>
<line x1="423.90" y1="710.80" x2="423.90" y2="714.40" stroke="#1a1a1a" stroke-width="1.1"/>
<text x="423.90" y="724.20" font-size="7.2" text-anchor="middle" fill="#222" font-weight="normal" stroke="#222" stroke-width="0.16">72</text>
<line x1="443.50" y1="710.80" x2="443.50" y2="714.40" stroke="#1a1a1a" stroke-width="1.1"/>
<text x="443.50" y="724.20" font-size="7.2" text-anchor="middle" fill="#222" font-weight="normal" stroke="#222" stroke-width="0.16">84</text>
<line x1="463.10" y1="710.80" x2="463.10" y2="714.40" stroke="#1a1a1a" stroke-width="1.1"/>
<text x="463.10" y="724.20" font-size="7.2" text-anchor="middle" fill="#222" font-weight="normal" stroke="#222" stroke-width="0.16">96</text>
<line x1="482.70" y1="710.80" x2="482.70" y2="714.40" stroke="#1a1a1a" stroke-width="1.1"/>
<text x="482.70" y="724.20" font-size="7.2" text-anchor="middle" fill="#222" font-weight="normal" stroke="#222" stroke-width="0.16">108</text>
<line x1="502.30" y1="710.80" x2="502.30" y2="714.40" stroke="#1a1a1a" stroke-width="1.1"/>
<text x="502.30" y="724.20" font-size="7.2" text-anchor="middle" fill="#222" font-weight="normal" stroke="#222" stroke-width="0.16">120</text>
<text transform="translate(404.30,737.50) scale(0.7,1)" font-size="9.9" text-anchor="middle" fill="#1a1a1a" stroke="#1a1a1a" stroke-width="0.45" x="0" y="0">Time from landmark (months)</text>
<text transform="translate(272.90,639.15) rotate(-90) scale(0.8,1)" font-size="8.2" text-anchor="middle" fill="#1a1a1a" stroke="#1a1a1a" stroke-width="0.42" x="0" y="0">Relapse-free survival</text>
<polyline points="307.00,573.90 308.80,585.00 310.40,588.10 312.70,598.10 315.00,608.80 318.10,615.80 320.40,621.90 320.40,626.90 324.20,626.90 325.00,629.20 326.50,634.60 331.20,634.60 331.20,641.50 333.50,648.50 344.20,648.50 344.20,652.60 351.90,652.60 351.90,656.90 358.80,656.90 358.80,662.50 424.20,662.50 424.20,676.50 496.60,676.50" fill="none" stroke="#b8712c" stroke-width="1.25" stroke-linejoin="miter"/>
<line x1="366.20" y1="661.20" x2="366.20" y2="663.80" stroke="#804f1e" stroke-width="1.0"/>
<line x1="373.80" y1="661.20" x2="373.80" y2="663.80" stroke="#804f1e" stroke-width="1.0"/>
<line x1="381.50" y1="661.20" x2="381.50" y2="663.80" stroke="#804f1e" stroke-width="1.0"/>
<line x1="404.60" y1="661.20" x2="404.60" y2="663.80" stroke="#804f1e" stroke-width="1.0"/>
<line x1="462.30" y1="675.20" x2="462.30" y2="677.80" stroke="#804f1e" stroke-width="1.0"/>
<line x1="495.00" y1="675.20" x2="495.00" y2="677.80" stroke="#804f1e" stroke-width="1.0"/>
<polyline points="307.00,573.90 309.60,580.40 312.70,591.90 314.20,598.10 316.50,598.10 318.10,600.10 322.70,600.10 324.20,602.40 339.60,602.40 339.60,605.30 367.30,605.30 367.30,608.50 393.10,608.50 393.10,612.60 445.60,612.60 445.60,622.90 511.50,622.90" fill="none" stroke="#40a8dc" stroke-width="1.25" stroke-linejoin="miter"/>
<line x1="325.80" y1="601.10" x2="325.80" y2="603.70" stroke="#2c759a" stroke-width="1.0"/>
<line x1="331.50" y1="601.10" x2="331.50" y2="603.70" stroke="#2c759a" stroke-width="1.0"/>
<line x1="354.60" y1="604.00" x2="354.60" y2="606.60" stroke="#2c759a" stroke-width="1.0"/>
<line x1="362.30" y1="604.00" x2="362.30" y2="606.60" stroke="#2c759a" stroke-width="1.0"/>
<line x1="373.80" y1="607.20" x2="373.80" y2="609.80" stroke="#2c759a" stroke-width="1.0"/>
<line x1="379.60" y1="607.20" x2="379.60" y2="609.80" stroke="#2c759a" stroke-width="1.0"/>
<line x1="385.40" y1="607.20" x2="385.40" y2="609.80" stroke="#2c759a" stroke-width="1.0"/>
<line x1="408.50" y1="611.30" x2="408.50" y2="613.90" stroke="#2c759a" stroke-width="1.0"/>
<line x1="421.90" y1="611.30" x2="421.90" y2="613.90" stroke="#2c759a" stroke-width="1.0"/>
<line x1="427.70" y1="611.30" x2="427.70" y2="613.90" stroke="#2c759a" stroke-width="1.0"/>
<line x1="431.50" y1="611.30" x2="431.50" y2="613.90" stroke="#2c759a" stroke-width="1.0"/>
<line x1="466.20" y1="621.60" x2="466.20" y2="624.20" stroke="#2c759a" stroke-width="1.0"/>
<line x1="481.50" y1="621.60" x2="481.50" y2="624.20" stroke="#2c759a" stroke-width="1.0"/>
<line x1="489.20" y1="621.60" x2="489.20" y2="624.20" stroke="#2c759a" stroke-width="1.0"/>
<line x1="496.90" y1="621.60" x2="496.90" y2="624.20" stroke="#2c759a" stroke-width="1.0"/>
<line x1="508.50" y1="621.60" x2="508.50" y2="624.20" stroke="#2c759a" stroke-width="1.0"/>
<text x="279.50" y="749.70" font-size="7.1" text-anchor="start" fill="#222" font-weight="normal" stroke="#222" stroke-width="0.16">Number at risk</text>
<line x1="282.50" y1="758.30" x2="296.50" y2="758.30" stroke="#4aa3b6" stroke-width="1.6"/>
<text x="306.30" y="760.90" font-size="7.1" text-anchor="middle" fill="#222" font-weight="normal" stroke="#222" stroke-width="0.16">64</text>
<text x="325.90" y="760.90" font-size="7.1" text-anchor="middle" fill="#222" font-weight="normal" stroke="#222" stroke-width="0.16">44</text>
<text x="345.50" y="760.90" font-size="7.1" text-anchor="middle" fill="#222" font-weight="normal" stroke="#222" stroke-width="0.16">36</text>
<text x="365.10" y="760.90" font-size="7.1" text-anchor="middle" fill="#222" font-weight="normal" stroke="#222" stroke-width="0.16">32</text>
<text x="384.70" y="760.90" font-size="7.1" text-anchor="middle" fill="#222" font-weight="normal" stroke="#222" stroke-width="0.16">25</text>
<text x="404.30" y="760.90" font-size="7.1" text-anchor="middle" fill="#222" font-weight="normal" stroke="#222" stroke-width="0.16">21</text>
<text x="423.90" y="760.90" font-size="7.1" text-anchor="middle" fill="#222" font-weight="normal" stroke="#222" stroke-width="0.16">16</text>
<text x="443.50" y="760.90" font-size="7.1" text-anchor="middle" fill="#222" font-weight="normal" stroke="#222" stroke-width="0.16">10</text>
<text x="463.10" y="760.90" font-size="7.1" text-anchor="middle" fill="#222" font-weight="normal" stroke="#222" stroke-width="0.16">8</text>
<text x="482.70" y="760.90" font-size="7.1" text-anchor="middle" fill="#222" font-weight="normal" stroke="#222" stroke-width="0.16">7</text>
<text x="502.30" y="760.90" font-size="7.1" text-anchor="middle" fill="#222" font-weight="normal" stroke="#222" stroke-width="0.16">4</text>
<line x1="282.50" y1="769.60" x2="296.50" y2="769.60" stroke="#94602f" stroke-width="1.6"/>
<text x="306.30" y="772.20" font-size="7.1" text-anchor="middle" fill="#222" font-weight="normal" stroke="#222" stroke-width="0.16">46</text>
<text x="325.90" y="772.20" font-size="7.1" text-anchor="middle" fill="#222" font-weight="normal" stroke="#222" stroke-width="0.16">22</text>
<text x="345.50" y="772.20" font-size="7.1" text-anchor="middle" fill="#222" font-weight="normal" stroke="#222" stroke-width="0.16">13</text>
<text x="365.10" y="772.20" font-size="7.1" text-anchor="middle" fill="#222" font-weight="normal" stroke="#222" stroke-width="0.16">6</text>
<text x="384.70" y="772.20" font-size="7.1" text-anchor="middle" fill="#222" font-weight="normal" stroke="#222" stroke-width="0.16">4</text>
<text x="404.30" y="772.20" font-size="7.1" text-anchor="middle" fill="#222" font-weight="normal" stroke="#222" stroke-width="0.16">3</text>
<text x="423.90" y="772.20" font-size="7.1" text-anchor="middle" fill="#222" font-weight="normal" stroke="#222" stroke-width="0.16">2</text>
<text x="443.50" y="772.20" font-size="7.1" text-anchor="middle" fill="#222" font-weight="normal" stroke="#222" stroke-width="0.16">1</text>
<text x="463.10" y="772.20" font-size="7.1" text-anchor="middle" fill="#222" font-weight="normal" stroke="#222" stroke-width="0.16">1</text>
<text x="482.70" y="772.20" font-size="7.1" text-anchor="middle" fill="#222" font-weight="normal" stroke="#222" stroke-width="0.16">1</text>
<text x="502.30" y="772.20" font-size="7.1" text-anchor="middle" fill="#222" font-weight="normal" stroke="#222" stroke-width="0.16">0</text>
<text x="347.50" y="788.10" font-size="7.1" text-anchor="start" fill="#222" font-weight="normal" stroke="#222" stroke-width="0.16">SCT in CR1</text>
<line x1="391.25" y1="785.50" x2="399.25" y2="785.50" stroke="#2f5a8c" stroke-width="1.2"/>
<line x1="395.25" y1="784.30" x2="395.25" y2="786.70" stroke="#2f5a8c" stroke-width="0.8"/>
<text x="402.25" y="788.10" font-size="7.1" text-anchor="start" fill="#222" font-weight="normal" stroke="#222" stroke-width="0.16">SCT</text>
<line x1="423.85" y1="785.50" x2="431.85" y2="785.50" stroke="#eaa640" stroke-width="1.2"/>
<line x1="427.85" y1="784.30" x2="427.85" y2="786.70" stroke="#eaa640" stroke-width="0.8"/>
<text x="434.85" y="788.10" font-size="7.1" text-anchor="start" fill="#222" font-weight="normal" stroke="#222" stroke-width="0.16">No SCT</text>
</svg>
<div class="frame"></div>
</body></html>
